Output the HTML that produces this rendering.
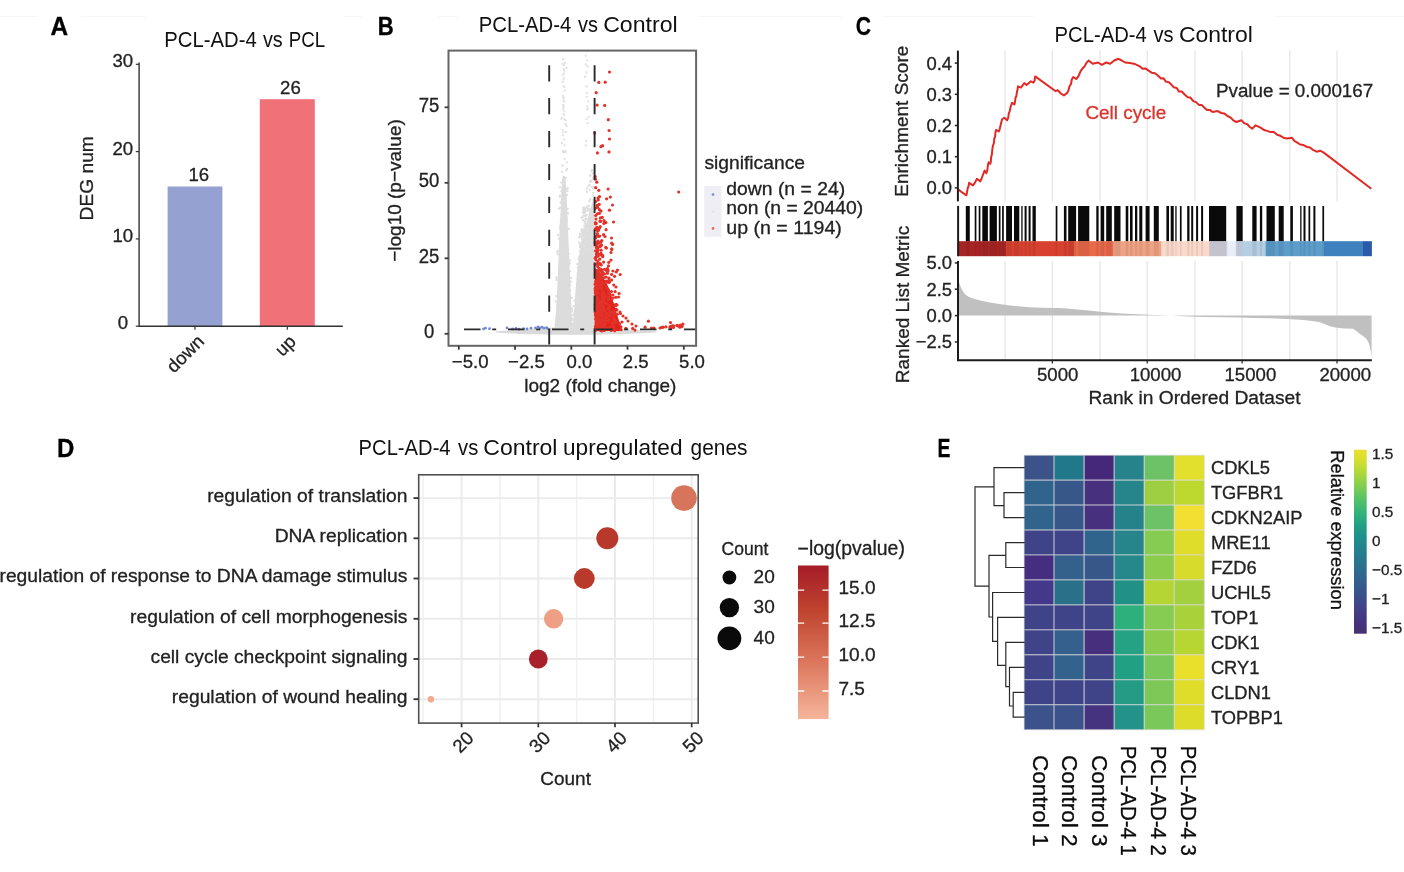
<!DOCTYPE html>
<html lang="en"><head><meta charset="utf-8"><title>Figure</title>
<style>html,body{margin:0;padding:0;background:#fff}body{width:1404px;height:872px;overflow:hidden}svg{display:block}text{font-family:"Liberation Sans", Arial, sans-serif;stroke-width:.3px}</style></head><body>
<svg width="1404" height="872" viewBox="0 0 1404 872">
<rect width="1404" height="872" fill="#fff"/>
<path d="M0 16.5H37M81 16.5H146M343.7 16.5H363M437 16.5H458M699 16.5H842M883.5 16.5H1033.5M1274 16.5H1404" stroke="#f6f6f6" stroke-width="1" fill="none"/>
<g id="letters">
<text x="50.41" y="34.9" font-size="25.4" font-weight="bold" fill="#000" textLength="17.62" lengthAdjust="spacingAndGlyphs" stroke="#000" stroke-width="0.8" stroke-linejoin="round">A</text>
<text x="377.64" y="34.9" font-size="25.4" font-weight="bold" fill="#000" textLength="15.96" lengthAdjust="spacingAndGlyphs" stroke="#000" stroke-width="0.8" stroke-linejoin="round">B</text>
<text x="855.63" y="35.1" font-size="25.4" font-weight="bold" fill="#000" textLength="15.24" lengthAdjust="spacingAndGlyphs" stroke="#000" stroke-width="0.8" stroke-linejoin="round">C</text>
<text x="57.11" y="456.7" font-size="25.4" font-weight="bold" fill="#000" textLength="17.38" lengthAdjust="spacingAndGlyphs" stroke="#000" stroke-width="0.8" stroke-linejoin="round">D</text>
<text x="937.42" y="456.7" font-size="25.4" font-weight="bold" fill="#000" textLength="12.94" lengthAdjust="spacingAndGlyphs" stroke="#000" stroke-width="0.8" stroke-linejoin="round">E</text>
</g>
<g id="panelA">
<text y="47" font-size="21.4" fill="#111"><tspan x="164.3" textLength="92.4" lengthAdjust="spacingAndGlyphs">PCL-AD-4</tspan> <tspan x="262.9" textLength="19.8" lengthAdjust="spacingAndGlyphs">vs</tspan> <tspan x="288.8" textLength="36.4" lengthAdjust="spacingAndGlyphs">PCL</tspan></text>
<rect x="167.6" y="186.5" width="54.8" height="139.7" fill="#94a1d1"/>
<rect x="259.8" y="99.2" width="55" height="227.0" fill="#f07177"/>
<path d="M139.1 62.6V326.2H342.8" fill="none" stroke="#333" stroke-width="1.4"/>
<path d="M135.8 326.2H139.1" stroke="#333" stroke-width="1.2"/>
<text x="122.8" y="329.1" font-size="18.6" text-anchor="middle" fill="#222" stroke="#222">0</text>
<path d="M135.8 238.9H139.1" stroke="#333" stroke-width="1.2"/>
<text x="122.8" y="241.8" font-size="18.6" text-anchor="middle" fill="#222" stroke="#222">10</text>
<path d="M135.8 151.6H139.1" stroke="#333" stroke-width="1.2"/>
<text x="122.8" y="154.5" font-size="18.6" text-anchor="middle" fill="#222" stroke="#222">20</text>
<path d="M135.8 64.3H139.1" stroke="#333" stroke-width="1.2"/>
<text x="122.8" y="67.2" font-size="18.6" text-anchor="middle" fill="#222" stroke="#222">30</text>
<path d="M195 326.2V329.7" stroke="#333" stroke-width="1.2"/>
<path d="M287.3 326.2V329.7" stroke="#333" stroke-width="1.2"/>
<text x="198.8" y="181.4" font-size="18.6" text-anchor="middle" fill="#222" stroke="#222">16</text>
<text x="290.4" y="93.9" font-size="18.6" text-anchor="middle" fill="#222" stroke="#222">26</text>
<text x="92.6" y="178.3" font-size="19.2" text-anchor="middle" fill="#222" stroke="#222" transform="rotate(-90 92.6 178.3)">DEG num</text>
<text x="205.2" y="342.6" font-size="18.4" text-anchor="end" fill="#222" stroke="#222" transform="rotate(-45 205.2 342.6)">down</text>
<text x="297" y="342.8" font-size="18.4" text-anchor="end" fill="#222" stroke="#222" transform="rotate(-45 297 342.8)">up</text>
</g>
<g id="panelB">
<text y="32.4" font-size="21.4" fill="#111"><tspan x="478.7" textLength="92.5" lengthAdjust="spacingAndGlyphs">PCL-AD-4</tspan> <tspan x="578.1" textLength="20.0" lengthAdjust="spacingAndGlyphs">vs</tspan> <tspan x="603.2" textLength="74.5" lengthAdjust="spacingAndGlyphs">Control</tspan></text>
<clipPath id="clipB"><rect x="448.5" y="50.6" width="247.6" height="295.2"/></clipPath>
<g clip-path="url(#clipB)">
<defs><filter id="soft" x="-5%" y="-5%" width="110%" height="110%"><feGaussianBlur stdDeviation="0.55"/></filter></defs>
<g filter="url(#soft)">
<path d="M496 331.2 C510 330.4 535 329 553 327.4 L573 327.6 L596 328 C620 329.6 640 330.6 656 331.2 L656 332.4 C630 334 600 334.8 575 334.8 C540 334.8 515 333.8 496 332.6 Z" fill="#dadada"/>
<path d="M553.8 331 C555.4 322 556.2 308 556.9 296 C557.6 282 558.2 268 558.8 252 C559.3 238 560 222 560.8 205 C561.2 196 561.6 188 562 180 L562.8 176 L564.8 176 L565.6 180 C566 188 566.6 196 567 205 C567.6 222 568.4 238 569 252 C569.6 268 570.4 284 571 298 C571.5 308 572 322 573 331 Z" fill="#dcdcdc"/>
<path d="M573.2 331 C573.6 322 574.2 310 575 298 C575.8 287 576.6 276 577.8 266 C579 256 580.2 248 582 240 C584 231 586 224 588 217 C589.5 212 591 207 592.4 202 L594.3 200 L594.3 331 Z" fill="#dcdcdc"/>
</g>
<circle cx="564.8" cy="90.6" r="1.15" fill="#e2e2e2"/>
<circle cx="564.9" cy="63.0" r="1.15" fill="#e2e2e2"/>
<circle cx="563.5" cy="113.9" r="1.15" fill="#e2e2e2"/>
<circle cx="564.1" cy="110.8" r="1.15" fill="#e2e2e2"/>
<circle cx="563.5" cy="59.1" r="1.15" fill="#e2e2e2"/>
<circle cx="563.9" cy="65.0" r="1.15" fill="#e2e2e2"/>
<circle cx="564.1" cy="101.7" r="1.15" fill="#e2e2e2"/>
<circle cx="563.3" cy="79.6" r="1.15" fill="#e2e2e2"/>
<circle cx="565.5" cy="124.0" r="1.15" fill="#e2e2e2"/>
<circle cx="563.3" cy="98.6" r="1.15" fill="#e2e2e2"/>
<circle cx="566.8" cy="162.4" r="1.15" fill="#e2e2e2"/>
<circle cx="564.4" cy="86.9" r="1.15" fill="#e2e2e2"/>
<circle cx="564.4" cy="70.9" r="1.15" fill="#e2e2e2"/>
<circle cx="564.6" cy="144.8" r="1.15" fill="#e2e2e2"/>
<circle cx="562.5" cy="74.9" r="1.15" fill="#e2e2e2"/>
<circle cx="563.0" cy="96.0" r="1.15" fill="#e2e2e2"/>
<circle cx="564.2" cy="115.3" r="1.15" fill="#e2e2e2"/>
<circle cx="563.9" cy="77.7" r="1.15" fill="#e2e2e2"/>
<circle cx="562.7" cy="129.8" r="1.15" fill="#e2e2e2"/>
<circle cx="564.3" cy="119.4" r="1.15" fill="#e2e2e2"/>
<circle cx="563.1" cy="104.9" r="1.15" fill="#e2e2e2"/>
<circle cx="566.1" cy="131.9" r="1.15" fill="#e2e2e2"/>
<circle cx="562.6" cy="81.9" r="1.15" fill="#e2e2e2"/>
<circle cx="563.0" cy="151.3" r="1.15" fill="#e2e2e2"/>
<circle cx="562.9" cy="135.2" r="1.15" fill="#e2e2e2"/>
<circle cx="566.5" cy="68.0" r="1.15" fill="#e2e2e2"/>
<circle cx="563.8" cy="101.0" r="1.15" fill="#e2e2e2"/>
<circle cx="563.1" cy="108.8" r="1.15" fill="#e2e2e2"/>
<circle cx="563.0" cy="59.3" r="1.15" fill="#e2e2e2"/>
<circle cx="561.9" cy="118.0" r="1.15" fill="#e2e2e2"/>
<circle cx="562.9" cy="151.3" r="1.15" fill="#e2e2e2"/>
<circle cx="565.7" cy="120.4" r="1.15" fill="#e2e2e2"/>
<circle cx="561.4" cy="118.8" r="1.15" fill="#e2e2e2"/>
<circle cx="564.6" cy="158.9" r="1.15" fill="#e2e2e2"/>
<circle cx="563.6" cy="107.2" r="1.15" fill="#e2e2e2"/>
<circle cx="563.4" cy="132.2" r="1.15" fill="#e2e2e2"/>
<circle cx="566.3" cy="126.2" r="1.15" fill="#e2e2e2"/>
<circle cx="563.7" cy="86.3" r="1.15" fill="#e2e2e2"/>
<circle cx="563.7" cy="97.4" r="1.15" fill="#e2e2e2"/>
<circle cx="563.6" cy="105.8" r="1.15" fill="#e2e2e2"/>
<circle cx="564.1" cy="73.5" r="1.15" fill="#e2e2e2"/>
<circle cx="564.1" cy="139.5" r="1.15" fill="#e2e2e2"/>
<circle cx="563.8" cy="69.2" r="1.15" fill="#e2e2e2"/>
<circle cx="565.3" cy="150.9" r="1.15" fill="#e2e2e2"/>
<circle cx="562.7" cy="63.9" r="1.15" fill="#e2e2e2"/>
<circle cx="564.4" cy="152.2" r="1.15" fill="#e2e2e2"/>
<circle cx="570.2" cy="312.0" r="1.15" fill="#dddddd"/>
<circle cx="562.6" cy="240.3" r="1.15" fill="#dddddd"/>
<circle cx="568.9" cy="253.8" r="1.15" fill="#dddddd"/>
<circle cx="557.1" cy="325.9" r="1.15" fill="#dddddd"/>
<circle cx="560.8" cy="219.8" r="1.15" fill="#dddddd"/>
<circle cx="563.5" cy="231.8" r="1.15" fill="#dddddd"/>
<circle cx="559.9" cy="285.8" r="1.15" fill="#dddddd"/>
<circle cx="563.2" cy="152.2" r="1.15" fill="#dddddd"/>
<circle cx="564.6" cy="255.5" r="1.15" fill="#dddddd"/>
<circle cx="567.3" cy="325.5" r="1.15" fill="#dddddd"/>
<circle cx="565.5" cy="276.4" r="1.15" fill="#dddddd"/>
<circle cx="556.3" cy="296.2" r="1.15" fill="#dddddd"/>
<circle cx="568.9" cy="320.2" r="1.15" fill="#dddddd"/>
<circle cx="569.1" cy="317.7" r="1.15" fill="#dddddd"/>
<circle cx="562.3" cy="259.0" r="1.15" fill="#dddddd"/>
<circle cx="565.0" cy="201.1" r="1.15" fill="#dddddd"/>
<circle cx="560.1" cy="187.4" r="1.15" fill="#dddddd"/>
<circle cx="559.9" cy="226.8" r="1.15" fill="#dddddd"/>
<circle cx="557.8" cy="250.8" r="1.15" fill="#dddddd"/>
<circle cx="561.9" cy="142.9" r="1.15" fill="#dddddd"/>
<circle cx="562.4" cy="200.5" r="1.15" fill="#dddddd"/>
<circle cx="566.4" cy="170.3" r="1.15" fill="#dddddd"/>
<circle cx="558.0" cy="288.9" r="1.15" fill="#dddddd"/>
<circle cx="561.9" cy="235.4" r="1.15" fill="#dddddd"/>
<circle cx="558.6" cy="254.7" r="1.15" fill="#dddddd"/>
<circle cx="572.6" cy="315.1" r="1.15" fill="#dddddd"/>
<circle cx="563.5" cy="269.7" r="1.15" fill="#dddddd"/>
<circle cx="560.1" cy="195.7" r="1.15" fill="#dddddd"/>
<circle cx="560.6" cy="251.2" r="1.15" fill="#dddddd"/>
<circle cx="557.6" cy="313.0" r="1.15" fill="#dddddd"/>
<circle cx="566.9" cy="168.9" r="1.15" fill="#dddddd"/>
<circle cx="558.3" cy="278.1" r="1.15" fill="#dddddd"/>
<circle cx="556.4" cy="280.0" r="1.15" fill="#dddddd"/>
<circle cx="571.0" cy="278.1" r="1.15" fill="#dddddd"/>
<circle cx="567.3" cy="316.5" r="1.15" fill="#dddddd"/>
<circle cx="562.1" cy="237.1" r="1.15" fill="#dddddd"/>
<circle cx="566.6" cy="217.7" r="1.15" fill="#dddddd"/>
<circle cx="568.0" cy="278.7" r="1.15" fill="#dddddd"/>
<circle cx="560.1" cy="249.1" r="1.15" fill="#dddddd"/>
<circle cx="572.3" cy="311.2" r="1.15" fill="#dddddd"/>
<circle cx="569.2" cy="315.4" r="1.15" fill="#dddddd"/>
<circle cx="568.0" cy="311.9" r="1.15" fill="#dddddd"/>
<circle cx="563.9" cy="230.5" r="1.15" fill="#dddddd"/>
<circle cx="557.4" cy="253.3" r="1.15" fill="#dddddd"/>
<circle cx="562.1" cy="171.8" r="1.15" fill="#dddddd"/>
<circle cx="566.0" cy="236.7" r="1.15" fill="#dddddd"/>
<circle cx="562.7" cy="325.8" r="1.15" fill="#dddddd"/>
<circle cx="572.8" cy="323.9" r="1.15" fill="#dddddd"/>
<circle cx="561.1" cy="325.7" r="1.15" fill="#dddddd"/>
<circle cx="560.5" cy="229.2" r="1.15" fill="#dddddd"/>
<circle cx="560.4" cy="224.3" r="1.15" fill="#dddddd"/>
<circle cx="570.2" cy="290.1" r="1.15" fill="#dddddd"/>
<circle cx="563.3" cy="314.2" r="1.15" fill="#dddddd"/>
<circle cx="568.6" cy="293.5" r="1.15" fill="#dddddd"/>
<circle cx="565.1" cy="195.3" r="1.15" fill="#dddddd"/>
<circle cx="568.9" cy="321.2" r="1.15" fill="#dddddd"/>
<circle cx="563.3" cy="304.6" r="1.15" fill="#dddddd"/>
<circle cx="566.8" cy="220.3" r="1.15" fill="#dddddd"/>
<circle cx="567.6" cy="249.6" r="1.15" fill="#dddddd"/>
<circle cx="561.7" cy="327.3" r="1.15" fill="#dddddd"/>
<circle cx="569.9" cy="260.4" r="1.15" fill="#dddddd"/>
<circle cx="558.1" cy="301.8" r="1.15" fill="#dddddd"/>
<circle cx="560.2" cy="207.7" r="1.15" fill="#dddddd"/>
<circle cx="569.4" cy="320.7" r="1.15" fill="#dddddd"/>
<circle cx="567.1" cy="212.6" r="1.15" fill="#dddddd"/>
<circle cx="566.7" cy="328.1" r="1.15" fill="#dddddd"/>
<circle cx="564.3" cy="252.5" r="1.15" fill="#dddddd"/>
<circle cx="558.8" cy="208.8" r="1.15" fill="#dddddd"/>
<circle cx="566.5" cy="327.2" r="1.15" fill="#dddddd"/>
<circle cx="570.3" cy="277.9" r="1.15" fill="#dddddd"/>
<circle cx="569.0" cy="265.1" r="1.15" fill="#dddddd"/>
<circle cx="558.5" cy="312.7" r="1.15" fill="#dddddd"/>
<circle cx="561.2" cy="235.3" r="1.15" fill="#dddddd"/>
<circle cx="564.7" cy="233.2" r="1.15" fill="#dddddd"/>
<circle cx="562.7" cy="236.8" r="1.15" fill="#dddddd"/>
<circle cx="567.8" cy="208.8" r="1.15" fill="#dddddd"/>
<circle cx="563.1" cy="253.0" r="1.15" fill="#dddddd"/>
<circle cx="570.1" cy="285.1" r="1.15" fill="#dddddd"/>
<circle cx="569.6" cy="263.2" r="1.15" fill="#dddddd"/>
<circle cx="564.2" cy="274.6" r="1.15" fill="#dddddd"/>
<circle cx="556.4" cy="277.5" r="1.15" fill="#dddddd"/>
<circle cx="559.2" cy="266.0" r="1.15" fill="#dddddd"/>
<circle cx="565.4" cy="151.9" r="1.15" fill="#dddddd"/>
<circle cx="563.4" cy="218.9" r="1.15" fill="#dddddd"/>
<circle cx="564.7" cy="301.8" r="1.15" fill="#dddddd"/>
<circle cx="563.9" cy="248.5" r="1.15" fill="#dddddd"/>
<circle cx="568.1" cy="281.6" r="1.15" fill="#dddddd"/>
<circle cx="564.3" cy="201.9" r="1.15" fill="#dddddd"/>
<circle cx="561.0" cy="234.7" r="1.15" fill="#dddddd"/>
<circle cx="563.8" cy="307.0" r="1.15" fill="#dddddd"/>
<circle cx="567.8" cy="282.4" r="1.15" fill="#dddddd"/>
<circle cx="562.6" cy="321.5" r="1.15" fill="#dddddd"/>
<circle cx="563.8" cy="288.7" r="1.15" fill="#dddddd"/>
<circle cx="566.6" cy="276.0" r="1.15" fill="#dddddd"/>
<circle cx="564.2" cy="267.8" r="1.15" fill="#dddddd"/>
<circle cx="570.2" cy="271.4" r="1.15" fill="#dddddd"/>
<circle cx="570.0" cy="298.9" r="1.15" fill="#dddddd"/>
<circle cx="559.2" cy="324.4" r="1.15" fill="#dddddd"/>
<circle cx="570.6" cy="282.1" r="1.15" fill="#dddddd"/>
<circle cx="557.2" cy="314.1" r="1.15" fill="#dddddd"/>
<circle cx="563.1" cy="206.3" r="1.15" fill="#dddddd"/>
<circle cx="561.4" cy="191.2" r="1.15" fill="#dddddd"/>
<circle cx="565.2" cy="191.4" r="1.15" fill="#dddddd"/>
<circle cx="570.7" cy="308.2" r="1.15" fill="#dddddd"/>
<circle cx="566.0" cy="214.7" r="1.15" fill="#dddddd"/>
<circle cx="557.8" cy="294.4" r="1.15" fill="#dddddd"/>
<circle cx="572.3" cy="318.5" r="1.15" fill="#dddddd"/>
<circle cx="568.9" cy="229.0" r="1.15" fill="#dddddd"/>
<circle cx="563.5" cy="259.9" r="1.15" fill="#dddddd"/>
<circle cx="570.1" cy="329.0" r="1.15" fill="#dddddd"/>
<circle cx="563.0" cy="216.3" r="1.15" fill="#dddddd"/>
<circle cx="561.3" cy="276.4" r="1.15" fill="#dddddd"/>
<circle cx="561.7" cy="224.1" r="1.15" fill="#dddddd"/>
<circle cx="555.5" cy="301.5" r="1.15" fill="#dddddd"/>
<circle cx="562.8" cy="281.4" r="1.15" fill="#dddddd"/>
<circle cx="562.6" cy="165.5" r="1.15" fill="#dddddd"/>
<circle cx="563.9" cy="290.1" r="1.15" fill="#dddddd"/>
<circle cx="567.8" cy="188.2" r="1.15" fill="#dddddd"/>
<circle cx="572.0" cy="308.7" r="1.15" fill="#dddddd"/>
<circle cx="561.5" cy="201.5" r="1.15" fill="#dddddd"/>
<circle cx="565.8" cy="177.8" r="1.15" fill="#dddddd"/>
<circle cx="559.1" cy="238.8" r="1.15" fill="#dddddd"/>
<circle cx="569.5" cy="263.5" r="1.15" fill="#dddddd"/>
<circle cx="559.4" cy="311.9" r="1.15" fill="#dddddd"/>
<circle cx="568.0" cy="213.4" r="1.15" fill="#dddddd"/>
<circle cx="566.8" cy="283.5" r="1.15" fill="#dddddd"/>
<circle cx="559.7" cy="196.8" r="1.15" fill="#dddddd"/>
<circle cx="562.4" cy="297.6" r="1.15" fill="#dddddd"/>
<circle cx="567.5" cy="191.1" r="1.15" fill="#dddddd"/>
<circle cx="568.6" cy="291.3" r="1.15" fill="#dddddd"/>
<circle cx="566.9" cy="195.0" r="1.15" fill="#dddddd"/>
<circle cx="566.8" cy="189.0" r="1.15" fill="#dddddd"/>
<circle cx="561.4" cy="268.0" r="1.15" fill="#dddddd"/>
<circle cx="570.3" cy="281.3" r="1.15" fill="#dddddd"/>
<circle cx="559.2" cy="238.3" r="1.15" fill="#dddddd"/>
<circle cx="559.7" cy="277.9" r="1.15" fill="#dddddd"/>
<circle cx="560.5" cy="202.9" r="1.15" fill="#dddddd"/>
<circle cx="561.3" cy="182.6" r="1.15" fill="#dddddd"/>
<circle cx="561.2" cy="246.1" r="1.15" fill="#dddddd"/>
<circle cx="560.1" cy="305.6" r="1.15" fill="#dddddd"/>
<circle cx="558.9" cy="274.4" r="1.15" fill="#dddddd"/>
<circle cx="557.3" cy="251.9" r="1.15" fill="#dddddd"/>
<circle cx="557.9" cy="235.1" r="1.15" fill="#dddddd"/>
<circle cx="564.6" cy="302.7" r="1.15" fill="#dddddd"/>
<circle cx="563.4" cy="222.7" r="1.15" fill="#dddddd"/>
<circle cx="556.3" cy="323.7" r="1.15" fill="#dddddd"/>
<circle cx="562.5" cy="311.9" r="1.15" fill="#dddddd"/>
<circle cx="568.7" cy="273.7" r="1.15" fill="#dddddd"/>
<circle cx="563.8" cy="259.1" r="1.15" fill="#dddddd"/>
<circle cx="571.8" cy="297.6" r="1.15" fill="#dddddd"/>
<circle cx="588.1" cy="101.3" r="1.15" fill="#e2e2e2"/>
<circle cx="586.1" cy="140.9" r="1.15" fill="#e2e2e2"/>
<circle cx="586.9" cy="109.6" r="1.15" fill="#e2e2e2"/>
<circle cx="586.5" cy="72.5" r="1.15" fill="#e2e2e2"/>
<circle cx="585.8" cy="64.5" r="1.15" fill="#e2e2e2"/>
<circle cx="585.1" cy="77.0" r="1.15" fill="#e2e2e2"/>
<circle cx="587.6" cy="66.4" r="1.15" fill="#e2e2e2"/>
<circle cx="585.7" cy="145.5" r="1.15" fill="#e2e2e2"/>
<circle cx="586.8" cy="93.1" r="1.15" fill="#e2e2e2"/>
<circle cx="588.7" cy="117.0" r="1.15" fill="#e2e2e2"/>
<circle cx="585.1" cy="76.3" r="1.15" fill="#e2e2e2"/>
<circle cx="589.8" cy="184.8" r="1.15" fill="#e2e2e2"/>
<circle cx="588.4" cy="186.3" r="1.15" fill="#e2e2e2"/>
<circle cx="589.1" cy="185.4" r="1.15" fill="#e2e2e2"/>
<circle cx="586.8" cy="96.8" r="1.15" fill="#e2e2e2"/>
<circle cx="587.2" cy="106.5" r="1.15" fill="#e2e2e2"/>
<circle cx="586.5" cy="119.1" r="1.15" fill="#e2e2e2"/>
<circle cx="587.6" cy="123.1" r="1.15" fill="#e2e2e2"/>
<circle cx="585.6" cy="55.7" r="1.15" fill="#e2e2e2"/>
<circle cx="587.8" cy="108.9" r="1.15" fill="#e2e2e2"/>
<circle cx="587.0" cy="60.6" r="1.15" fill="#e2e2e2"/>
<circle cx="586.7" cy="86.4" r="1.15" fill="#e2e2e2"/>
<circle cx="590.4" cy="216.8" r="1.15" fill="#dfdfdf"/>
<circle cx="591.1" cy="230.0" r="1.15" fill="#dfdfdf"/>
<circle cx="592.7" cy="227.3" r="1.15" fill="#dfdfdf"/>
<circle cx="589.4" cy="201.2" r="1.15" fill="#dfdfdf"/>
<circle cx="584.4" cy="248.8" r="1.15" fill="#dfdfdf"/>
<circle cx="591.0" cy="227.9" r="1.15" fill="#dfdfdf"/>
<circle cx="592.9" cy="173.5" r="1.15" fill="#dfdfdf"/>
<circle cx="590.6" cy="241.4" r="1.15" fill="#dfdfdf"/>
<circle cx="592.2" cy="228.7" r="1.15" fill="#dfdfdf"/>
<circle cx="591.5" cy="181.1" r="1.15" fill="#dfdfdf"/>
<circle cx="592.6" cy="210.3" r="1.15" fill="#dfdfdf"/>
<circle cx="592.3" cy="234.4" r="1.15" fill="#dfdfdf"/>
<circle cx="592.9" cy="216.7" r="1.15" fill="#dfdfdf"/>
<circle cx="591.5" cy="224.6" r="1.15" fill="#dfdfdf"/>
<circle cx="586.9" cy="188.4" r="1.15" fill="#dfdfdf"/>
<circle cx="590.6" cy="180.6" r="1.15" fill="#dfdfdf"/>
<circle cx="592.9" cy="178.4" r="1.15" fill="#dfdfdf"/>
<circle cx="591.2" cy="214.7" r="1.15" fill="#dfdfdf"/>
<circle cx="591.5" cy="220.1" r="1.15" fill="#dfdfdf"/>
<circle cx="583.7" cy="209.1" r="1.15" fill="#dfdfdf"/>
<circle cx="591.7" cy="233.8" r="1.15" fill="#dfdfdf"/>
<circle cx="590.7" cy="210.2" r="1.15" fill="#dfdfdf"/>
<circle cx="584.6" cy="222.7" r="1.15" fill="#dfdfdf"/>
<circle cx="587.2" cy="228.9" r="1.15" fill="#dfdfdf"/>
<circle cx="590.3" cy="176.0" r="1.15" fill="#dfdfdf"/>
<circle cx="586.6" cy="228.3" r="1.15" fill="#dfdfdf"/>
<circle cx="593.4" cy="229.2" r="1.15" fill="#dfdfdf"/>
<circle cx="589.5" cy="209.5" r="1.15" fill="#dfdfdf"/>
<circle cx="591.7" cy="208.3" r="1.15" fill="#dfdfdf"/>
<circle cx="590.7" cy="231.4" r="1.15" fill="#dfdfdf"/>
<circle cx="585.0" cy="221.4" r="1.15" fill="#dfdfdf"/>
<circle cx="589.9" cy="181.8" r="1.15" fill="#dfdfdf"/>
<circle cx="587.8" cy="229.5" r="1.15" fill="#dfdfdf"/>
<circle cx="583.6" cy="215.4" r="1.15" fill="#dfdfdf"/>
<circle cx="590.3" cy="174.9" r="1.15" fill="#dfdfdf"/>
<circle cx="591.5" cy="223.8" r="1.15" fill="#dfdfdf"/>
<circle cx="587.9" cy="224.1" r="1.15" fill="#dfdfdf"/>
<circle cx="590.1" cy="211.3" r="1.15" fill="#dfdfdf"/>
<circle cx="586.8" cy="207.3" r="1.15" fill="#dfdfdf"/>
<circle cx="585.7" cy="241.5" r="1.15" fill="#dfdfdf"/>
<circle cx="593.0" cy="248.3" r="1.15" fill="#dfdfdf"/>
<circle cx="591.5" cy="171.4" r="1.15" fill="#dfdfdf"/>
<circle cx="593.3" cy="235.6" r="1.15" fill="#dfdfdf"/>
<circle cx="588.7" cy="206.0" r="1.15" fill="#dfdfdf"/>
<circle cx="593.3" cy="186.8" r="1.15" fill="#dfdfdf"/>
<circle cx="591.6" cy="186.9" r="1.15" fill="#dfdfdf"/>
<circle cx="591.5" cy="181.3" r="1.15" fill="#dfdfdf"/>
<circle cx="584.2" cy="246.2" r="1.15" fill="#dfdfdf"/>
<circle cx="589.7" cy="235.6" r="1.15" fill="#dfdfdf"/>
<circle cx="591.2" cy="240.9" r="1.15" fill="#dfdfdf"/>
<circle cx="593.1" cy="188.5" r="1.15" fill="#dfdfdf"/>
<circle cx="584.8" cy="208.9" r="1.15" fill="#dfdfdf"/>
<circle cx="591.7" cy="170.3" r="1.15" fill="#dfdfdf"/>
<circle cx="589.0" cy="206.1" r="1.15" fill="#dfdfdf"/>
<circle cx="590.5" cy="181.3" r="1.15" fill="#dfdfdf"/>
<circle cx="592.7" cy="195.3" r="1.15" fill="#dfdfdf"/>
<circle cx="592.7" cy="170.1" r="1.15" fill="#dfdfdf"/>
<circle cx="584.6" cy="237.1" r="1.15" fill="#dfdfdf"/>
<circle cx="591.3" cy="244.1" r="1.15" fill="#dfdfdf"/>
<circle cx="587.0" cy="242.1" r="1.15" fill="#dfdfdf"/>
<circle cx="590.0" cy="199.8" r="1.15" fill="#dfdfdf"/>
<circle cx="590.0" cy="249.9" r="1.15" fill="#dfdfdf"/>
<circle cx="590.3" cy="198.9" r="1.15" fill="#dfdfdf"/>
<circle cx="586.9" cy="192.0" r="1.15" fill="#dfdfdf"/>
<circle cx="592.9" cy="178.1" r="1.15" fill="#dfdfdf"/>
<circle cx="593.2" cy="192.8" r="1.15" fill="#dfdfdf"/>
<circle cx="589.5" cy="189.9" r="1.15" fill="#dfdfdf"/>
<circle cx="587.5" cy="210.9" r="1.15" fill="#dfdfdf"/>
<circle cx="593.3" cy="199.9" r="1.15" fill="#dfdfdf"/>
<circle cx="592.1" cy="240.7" r="1.15" fill="#dfdfdf"/>
<circle cx="580.8" cy="283.9" r="1.15" fill="#dddddd"/>
<circle cx="577.5" cy="273.7" r="1.15" fill="#dddddd"/>
<circle cx="579.0" cy="294.9" r="1.15" fill="#dddddd"/>
<circle cx="581.0" cy="261.4" r="1.15" fill="#dddddd"/>
<circle cx="575.9" cy="299.1" r="1.15" fill="#dddddd"/>
<circle cx="584.5" cy="211.1" r="1.15" fill="#dddddd"/>
<circle cx="575.4" cy="320.8" r="1.15" fill="#dddddd"/>
<circle cx="582.8" cy="248.0" r="1.15" fill="#dddddd"/>
<circle cx="582.0" cy="242.2" r="1.15" fill="#dddddd"/>
<circle cx="579.2" cy="237.5" r="1.15" fill="#dddddd"/>
<circle cx="577.3" cy="287.0" r="1.15" fill="#dddddd"/>
<circle cx="582.6" cy="254.3" r="1.15" fill="#dddddd"/>
<circle cx="584.4" cy="225.9" r="1.15" fill="#dddddd"/>
<circle cx="575.4" cy="318.2" r="1.15" fill="#dddddd"/>
<circle cx="580.3" cy="267.1" r="1.15" fill="#dddddd"/>
<circle cx="576.3" cy="329.6" r="1.15" fill="#dddddd"/>
<circle cx="580.9" cy="261.2" r="1.15" fill="#dddddd"/>
<circle cx="585.5" cy="216.3" r="1.15" fill="#dddddd"/>
<circle cx="582.5" cy="247.7" r="1.15" fill="#dddddd"/>
<circle cx="583.3" cy="237.3" r="1.15" fill="#dddddd"/>
<circle cx="580.5" cy="276.2" r="1.15" fill="#dddddd"/>
<circle cx="579.4" cy="256.6" r="1.15" fill="#dddddd"/>
<circle cx="579.6" cy="256.7" r="1.15" fill="#dddddd"/>
<circle cx="581.6" cy="247.3" r="1.15" fill="#dddddd"/>
<circle cx="584.6" cy="212.8" r="1.15" fill="#dddddd"/>
<circle cx="587.8" cy="220.7" r="1.15" fill="#dddddd"/>
<circle cx="577.9" cy="267.9" r="1.15" fill="#dddddd"/>
<circle cx="581.4" cy="232.0" r="1.15" fill="#dddddd"/>
<circle cx="582.6" cy="238.9" r="1.15" fill="#dddddd"/>
<circle cx="581.7" cy="260.7" r="1.15" fill="#dddddd"/>
<circle cx="575.6" cy="324.2" r="1.15" fill="#dddddd"/>
<circle cx="583.6" cy="207.7" r="1.15" fill="#dddddd"/>
<circle cx="584.9" cy="209.0" r="1.15" fill="#dddddd"/>
<circle cx="577.4" cy="264.2" r="1.15" fill="#dddddd"/>
<circle cx="580.0" cy="278.4" r="1.15" fill="#dddddd"/>
<circle cx="574.4" cy="320.9" r="1.15" fill="#dddddd"/>
<circle cx="577.8" cy="308.2" r="1.15" fill="#dddddd"/>
<circle cx="580.2" cy="236.1" r="1.15" fill="#dddddd"/>
<circle cx="585.5" cy="218.6" r="1.15" fill="#dddddd"/>
<circle cx="578.8" cy="290.3" r="1.15" fill="#dddddd"/>
<circle cx="573.9" cy="322.7" r="1.15" fill="#dddddd"/>
<circle cx="574.6" cy="300.6" r="1.15" fill="#dddddd"/>
<circle cx="579.9" cy="262.2" r="1.15" fill="#dddddd"/>
<circle cx="576.1" cy="302.8" r="1.15" fill="#dddddd"/>
<circle cx="584.7" cy="234.1" r="1.15" fill="#dddddd"/>
<circle cx="581.3" cy="243.0" r="1.15" fill="#dddddd"/>
<circle cx="584.4" cy="221.0" r="1.15" fill="#dddddd"/>
<circle cx="579.1" cy="292.3" r="1.15" fill="#dddddd"/>
<circle cx="586.0" cy="219.0" r="1.15" fill="#dddddd"/>
<circle cx="579.4" cy="277.9" r="1.15" fill="#dddddd"/>
<circle cx="581.4" cy="253.5" r="1.15" fill="#dddddd"/>
<circle cx="587.6" cy="206.3" r="1.15" fill="#dddddd"/>
<circle cx="579.0" cy="242.7" r="1.15" fill="#dddddd"/>
<circle cx="578.7" cy="285.6" r="1.15" fill="#dddddd"/>
<circle cx="574.0" cy="315.5" r="1.15" fill="#dddddd"/>
<circle cx="583.1" cy="235.9" r="1.15" fill="#dddddd"/>
<circle cx="573.7" cy="325.1" r="1.15" fill="#dddddd"/>
<circle cx="584.7" cy="207.7" r="1.15" fill="#dddddd"/>
<circle cx="579.2" cy="267.3" r="1.15" fill="#dddddd"/>
<circle cx="581.6" cy="237.2" r="1.15" fill="#dddddd"/>
<circle cx="578.5" cy="288.4" r="1.15" fill="#dddddd"/>
<circle cx="585.2" cy="209.3" r="1.15" fill="#dddddd"/>
<circle cx="580.0" cy="247.3" r="1.15" fill="#dddddd"/>
<circle cx="584.5" cy="229.8" r="1.15" fill="#dddddd"/>
<circle cx="575.9" cy="304.6" r="1.15" fill="#dddddd"/>
<circle cx="581.9" cy="230.7" r="1.15" fill="#dddddd"/>
<circle cx="573.0" cy="326.2" r="1.15" fill="#dddddd"/>
<circle cx="585.3" cy="233.9" r="1.15" fill="#dddddd"/>
<circle cx="583.3" cy="232.7" r="1.15" fill="#dddddd"/>
<circle cx="573.0" cy="324.0" r="1.15" fill="#dddddd"/>
<circle cx="580.2" cy="267.0" r="1.15" fill="#dddddd"/>
<circle cx="581.6" cy="257.1" r="1.15" fill="#dddddd"/>
<circle cx="578.4" cy="288.2" r="1.15" fill="#dddddd"/>
<circle cx="580.9" cy="254.2" r="1.15" fill="#dddddd"/>
<circle cx="584.0" cy="231.6" r="1.15" fill="#dddddd"/>
<circle cx="585.2" cy="211.5" r="1.15" fill="#dddddd"/>
<circle cx="583.1" cy="212.5" r="1.15" fill="#dddddd"/>
<circle cx="576.7" cy="315.4" r="1.15" fill="#dddddd"/>
<circle cx="579.9" cy="296.6" r="1.15" fill="#dddddd"/>
<circle cx="581.8" cy="246.2" r="1.15" fill="#dddddd"/>
<circle cx="585.7" cy="228.2" r="1.15" fill="#dddddd"/>
<circle cx="584.8" cy="209.0" r="1.15" fill="#dddddd"/>
<circle cx="576.8" cy="288.1" r="1.15" fill="#dddddd"/>
<circle cx="582.7" cy="246.5" r="1.15" fill="#dddddd"/>
<circle cx="584.9" cy="226.2" r="1.15" fill="#dddddd"/>
<circle cx="581.6" cy="248.9" r="1.15" fill="#dddddd"/>
<circle cx="576.4" cy="324.4" r="1.15" fill="#dddddd"/>
<circle cx="585.8" cy="230.9" r="1.15" fill="#dddddd"/>
<circle cx="582.6" cy="249.6" r="1.15" fill="#dddddd"/>
<circle cx="578.4" cy="259.1" r="1.15" fill="#dddddd"/>
<circle cx="584.1" cy="211.2" r="1.15" fill="#dddddd"/>
<circle cx="574.7" cy="319.9" r="1.15" fill="#dddddd"/>
<circle cx="581.8" cy="229.1" r="1.15" fill="#dddddd"/>
<circle cx="587.7" cy="208.8" r="1.15" fill="#dddddd"/>
<circle cx="581.7" cy="256.4" r="1.15" fill="#dddddd"/>
<circle cx="583.4" cy="210.1" r="1.15" fill="#dddddd"/>
<circle cx="588.3" cy="209.4" r="1.15" fill="#dddddd"/>
<circle cx="583.9" cy="237.1" r="1.15" fill="#dddddd"/>
<circle cx="577.6" cy="298.4" r="1.15" fill="#dddddd"/>
<circle cx="581.9" cy="239.0" r="1.15" fill="#dddddd"/>
<circle cx="573.3" cy="324.7" r="1.15" fill="#dddddd"/>
<circle cx="576.4" cy="294.6" r="1.15" fill="#dddddd"/>
<circle cx="582.0" cy="244.6" r="1.15" fill="#dddddd"/>
<circle cx="576.7" cy="299.5" r="1.15" fill="#dddddd"/>
<circle cx="572.5" cy="319.6" r="1.15" fill="#dddddd"/>
<circle cx="583.4" cy="208.0" r="1.15" fill="#dddddd"/>
<circle cx="579.9" cy="234.2" r="1.15" fill="#dddddd"/>
<circle cx="574.6" cy="324.2" r="1.15" fill="#dddddd"/>
<circle cx="581.2" cy="253.3" r="1.15" fill="#dddddd"/>
<circle cx="581.2" cy="266.7" r="1.15" fill="#dddddd"/>
<circle cx="575.4" cy="321.0" r="1.15" fill="#dddddd"/>
<circle cx="578.9" cy="297.3" r="1.15" fill="#dddddd"/>
<circle cx="576.0" cy="307.8" r="1.15" fill="#dddddd"/>
<circle cx="580.1" cy="246.0" r="1.15" fill="#dddddd"/>
<circle cx="580.5" cy="244.9" r="1.15" fill="#dddddd"/>
<circle cx="586.7" cy="214.9" r="1.15" fill="#dddddd"/>
<circle cx="583.6" cy="229.7" r="1.15" fill="#dddddd"/>
<circle cx="584.2" cy="213.1" r="1.15" fill="#dddddd"/>
<circle cx="584.5" cy="209.2" r="1.15" fill="#dddddd"/>
<circle cx="573.4" cy="327.5" r="1.15" fill="#dddddd"/>
<circle cx="576.0" cy="315.4" r="1.15" fill="#dddddd"/>
<circle cx="584.9" cy="215.5" r="1.15" fill="#dddddd"/>
<circle cx="582.7" cy="217.1" r="1.15" fill="#dddddd"/>
<circle cx="580.4" cy="260.9" r="1.15" fill="#dddddd"/>
<circle cx="581.5" cy="234.3" r="1.15" fill="#dddddd"/>
<circle cx="578.5" cy="289.3" r="1.15" fill="#dddddd"/>
<circle cx="577.7" cy="298.5" r="1.15" fill="#dddddd"/>
<circle cx="582.9" cy="220.1" r="1.15" fill="#dddddd"/>
<circle cx="575.0" cy="310.1" r="1.15" fill="#dddddd"/>
<circle cx="583.0" cy="251.6" r="1.15" fill="#dddddd"/>
<circle cx="577.1" cy="297.3" r="1.15" fill="#dddddd"/>
<circle cx="583.9" cy="235.7" r="1.15" fill="#dddddd"/>
<circle cx="585.4" cy="224.2" r="1.15" fill="#dddddd"/>
<circle cx="580.8" cy="245.8" r="1.15" fill="#dddddd"/>
<circle cx="582.6" cy="254.5" r="1.15" fill="#dddddd"/>
<circle cx="583.0" cy="233.9" r="1.15" fill="#dddddd"/>
<circle cx="573.6" cy="306.1" r="1.15" fill="#dddddd"/>
<circle cx="581.4" cy="217.8" r="1.15" fill="#dddddd"/>
<circle cx="581.1" cy="264.3" r="1.15" fill="#dddddd"/>
<circle cx="572.3" cy="319.3" r="1.15" fill="#dddddd"/>
<circle cx="585.3" cy="210.0" r="1.15" fill="#dddddd"/>
<circle cx="584.3" cy="228.7" r="1.15" fill="#dddddd"/>
<circle cx="571.2" cy="326.6" r="1.15" fill="#dddddd"/>
<circle cx="579.8" cy="251.5" r="1.15" fill="#dddddd"/>
<circle cx="574.2" cy="313.3" r="1.15" fill="#dddddd"/>
<circle cx="576.6" cy="302.2" r="1.15" fill="#dddddd"/>
<circle cx="575.6" cy="323.2" r="1.15" fill="#dddddd"/>
<circle cx="579.3" cy="282.5" r="1.15" fill="#dddddd"/>
<circle cx="582.8" cy="232.2" r="1.15" fill="#dddddd"/>
<circle cx="584.0" cy="230.5" r="1.15" fill="#dddddd"/>
<path d="M594.6 331 L594.6 268 L598 271 C601 274 604.5 279 607.5 285 C610 291 612 297 614 304 C616 311 618.5 320 621.5 328 L622.5 331 Z" fill="#e2231f" filter="url(#soft)"/>
<circle cx="609.5" cy="72.0" r="1.6" fill="#e2332a"/>
<circle cx="598.8" cy="82.4" r="1.6" fill="#e2332a"/>
<circle cx="605.2" cy="82.2" r="1.6" fill="#e2332a"/>
<circle cx="596.2" cy="92.7" r="1.6" fill="#e2332a"/>
<circle cx="597.1" cy="105.1" r="1.6" fill="#e2332a"/>
<circle cx="604.7" cy="105.4" r="1.6" fill="#e2332a"/>
<circle cx="608.3" cy="119.7" r="1.6" fill="#e2332a"/>
<circle cx="594.6" cy="133.1" r="1.6" fill="#e2332a"/>
<circle cx="609.1" cy="130.5" r="1.6" fill="#e2332a"/>
<circle cx="609.5" cy="139.0" r="1.6" fill="#e2332a"/>
<circle cx="600.9" cy="146.7" r="1.6" fill="#e2332a"/>
<circle cx="602.6" cy="145.7" r="1.6" fill="#e2332a"/>
<circle cx="597.4" cy="152.9" r="1.6" fill="#e2332a"/>
<circle cx="609.0" cy="151.9" r="1.6" fill="#e2332a"/>
<circle cx="595.2" cy="176.5" r="1.6" fill="#e2332a"/>
<circle cx="595.4" cy="179.2" r="1.6" fill="#e2332a"/>
<circle cx="596.8" cy="182.2" r="1.6" fill="#e2332a"/>
<circle cx="595.7" cy="187.7" r="1.6" fill="#e2332a"/>
<circle cx="598.8" cy="190.3" r="1.6" fill="#e2332a"/>
<circle cx="608.1" cy="189.0" r="1.6" fill="#e2332a"/>
<circle cx="678.7" cy="192.0" r="1.6" fill="#e2332a"/>
<circle cx="599.5" cy="196.6" r="1.6" fill="#e2332a"/>
<circle cx="610.3" cy="197.1" r="1.6" fill="#e2332a"/>
<circle cx="595.3" cy="284.0" r="1.6" fill="#e2332a"/>
<circle cx="595.9" cy="270.0" r="1.6" fill="#e2332a"/>
<circle cx="596.4" cy="282.3" r="1.6" fill="#e2332a"/>
<circle cx="597.6" cy="289.9" r="1.6" fill="#e2332a"/>
<circle cx="601.6" cy="245.1" r="1.6" fill="#e2332a"/>
<circle cx="603.9" cy="223.5" r="1.6" fill="#e2332a"/>
<circle cx="595.3" cy="258.2" r="1.6" fill="#e2332a"/>
<circle cx="603.8" cy="318.8" r="1.6" fill="#e2332a"/>
<circle cx="605.9" cy="222.6" r="1.6" fill="#e2332a"/>
<circle cx="595.7" cy="327.7" r="1.6" fill="#e2332a"/>
<circle cx="616.2" cy="321.0" r="1.6" fill="#e2332a"/>
<circle cx="596.6" cy="247.8" r="1.6" fill="#e2332a"/>
<circle cx="609.3" cy="298.3" r="1.6" fill="#e2332a"/>
<circle cx="602.2" cy="274.7" r="1.6" fill="#e2332a"/>
<circle cx="603.6" cy="262.1" r="1.6" fill="#e2332a"/>
<circle cx="596.8" cy="301.3" r="1.6" fill="#e2332a"/>
<circle cx="596.0" cy="259.9" r="1.6" fill="#e2332a"/>
<circle cx="598.4" cy="254.1" r="1.6" fill="#e2332a"/>
<circle cx="601.2" cy="264.9" r="1.6" fill="#e2332a"/>
<circle cx="595.6" cy="301.0" r="1.6" fill="#e2332a"/>
<circle cx="613.0" cy="324.4" r="1.6" fill="#e2332a"/>
<circle cx="611.2" cy="330.5" r="1.6" fill="#e2332a"/>
<circle cx="609.0" cy="319.7" r="1.6" fill="#e2332a"/>
<circle cx="599.1" cy="321.6" r="1.6" fill="#e2332a"/>
<circle cx="612.8" cy="298.1" r="1.6" fill="#e2332a"/>
<circle cx="597.9" cy="320.2" r="1.6" fill="#e2332a"/>
<circle cx="595.4" cy="264.3" r="1.6" fill="#e2332a"/>
<circle cx="615.6" cy="322.4" r="1.6" fill="#e2332a"/>
<circle cx="609.4" cy="281.9" r="1.6" fill="#e2332a"/>
<circle cx="606.1" cy="281.0" r="1.6" fill="#e2332a"/>
<circle cx="604.5" cy="273.9" r="1.6" fill="#e2332a"/>
<circle cx="602.7" cy="255.7" r="1.6" fill="#e2332a"/>
<circle cx="605.4" cy="328.8" r="1.6" fill="#e2332a"/>
<circle cx="595.4" cy="238.2" r="1.6" fill="#e2332a"/>
<circle cx="597.5" cy="316.9" r="1.6" fill="#e2332a"/>
<circle cx="595.2" cy="284.2" r="1.6" fill="#e2332a"/>
<circle cx="597.3" cy="243.9" r="1.6" fill="#e2332a"/>
<circle cx="601.6" cy="275.5" r="1.6" fill="#e2332a"/>
<circle cx="611.0" cy="260.1" r="1.6" fill="#e2332a"/>
<circle cx="595.6" cy="228.9" r="1.6" fill="#e2332a"/>
<circle cx="597.6" cy="301.6" r="1.6" fill="#e2332a"/>
<circle cx="601.8" cy="271.9" r="1.6" fill="#e2332a"/>
<circle cx="612.9" cy="295.0" r="1.6" fill="#e2332a"/>
<circle cx="595.5" cy="250.8" r="1.6" fill="#e2332a"/>
<circle cx="601.5" cy="301.1" r="1.6" fill="#e2332a"/>
<circle cx="597.2" cy="323.0" r="1.6" fill="#e2332a"/>
<circle cx="605.0" cy="236.5" r="1.6" fill="#e2332a"/>
<circle cx="605.6" cy="296.6" r="1.6" fill="#e2332a"/>
<circle cx="595.8" cy="257.1" r="1.6" fill="#e2332a"/>
<circle cx="596.8" cy="227.4" r="1.6" fill="#e2332a"/>
<circle cx="597.8" cy="310.1" r="1.6" fill="#e2332a"/>
<circle cx="597.7" cy="302.4" r="1.6" fill="#e2332a"/>
<circle cx="598.8" cy="323.5" r="1.6" fill="#e2332a"/>
<circle cx="597.6" cy="314.8" r="1.6" fill="#e2332a"/>
<circle cx="605.6" cy="318.5" r="1.6" fill="#e2332a"/>
<circle cx="596.7" cy="273.0" r="1.6" fill="#e2332a"/>
<circle cx="611.6" cy="280.1" r="1.6" fill="#e2332a"/>
<circle cx="595.6" cy="215.5" r="1.6" fill="#e2332a"/>
<circle cx="596.6" cy="321.4" r="1.6" fill="#e2332a"/>
<circle cx="598.2" cy="199.9" r="1.6" fill="#e2332a"/>
<circle cx="602.0" cy="295.5" r="1.6" fill="#e2332a"/>
<circle cx="601.0" cy="211.1" r="1.6" fill="#e2332a"/>
<circle cx="609.4" cy="305.6" r="1.6" fill="#e2332a"/>
<circle cx="595.9" cy="281.3" r="1.6" fill="#e2332a"/>
<circle cx="596.8" cy="253.2" r="1.6" fill="#e2332a"/>
<circle cx="612.8" cy="326.1" r="1.6" fill="#e2332a"/>
<circle cx="598.8" cy="279.5" r="1.6" fill="#e2332a"/>
<circle cx="607.4" cy="268.6" r="1.6" fill="#e2332a"/>
<circle cx="596.0" cy="219.0" r="1.6" fill="#e2332a"/>
<circle cx="596.1" cy="290.4" r="1.6" fill="#e2332a"/>
<circle cx="605.9" cy="281.9" r="1.6" fill="#e2332a"/>
<circle cx="598.7" cy="280.8" r="1.6" fill="#e2332a"/>
<circle cx="600.6" cy="315.3" r="1.6" fill="#e2332a"/>
<circle cx="596.3" cy="300.4" r="1.6" fill="#e2332a"/>
<circle cx="596.6" cy="309.9" r="1.6" fill="#e2332a"/>
<circle cx="597.6" cy="266.5" r="1.6" fill="#e2332a"/>
<circle cx="607.6" cy="328.8" r="1.6" fill="#e2332a"/>
<circle cx="600.7" cy="254.7" r="1.6" fill="#e2332a"/>
<circle cx="597.8" cy="248.4" r="1.6" fill="#e2332a"/>
<circle cx="600.7" cy="302.8" r="1.6" fill="#e2332a"/>
<circle cx="596.2" cy="281.4" r="1.6" fill="#e2332a"/>
<circle cx="604.2" cy="277.5" r="1.6" fill="#e2332a"/>
<circle cx="602.7" cy="318.6" r="1.6" fill="#e2332a"/>
<circle cx="597.2" cy="297.1" r="1.6" fill="#e2332a"/>
<circle cx="603.9" cy="311.1" r="1.6" fill="#e2332a"/>
<circle cx="598.9" cy="280.8" r="1.6" fill="#e2332a"/>
<circle cx="599.0" cy="281.0" r="1.6" fill="#e2332a"/>
<circle cx="604.8" cy="321.6" r="1.6" fill="#e2332a"/>
<circle cx="600.5" cy="301.1" r="1.6" fill="#e2332a"/>
<circle cx="602.5" cy="327.6" r="1.6" fill="#e2332a"/>
<circle cx="596.2" cy="323.0" r="1.6" fill="#e2332a"/>
<circle cx="602.8" cy="292.8" r="1.6" fill="#e2332a"/>
<circle cx="599.6" cy="307.9" r="1.6" fill="#e2332a"/>
<circle cx="605.7" cy="324.0" r="1.6" fill="#e2332a"/>
<circle cx="596.8" cy="244.0" r="1.6" fill="#e2332a"/>
<circle cx="598.0" cy="250.0" r="1.6" fill="#e2332a"/>
<circle cx="597.4" cy="322.9" r="1.6" fill="#e2332a"/>
<circle cx="597.1" cy="304.2" r="1.6" fill="#e2332a"/>
<circle cx="600.3" cy="305.3" r="1.6" fill="#e2332a"/>
<circle cx="616.3" cy="271.9" r="1.6" fill="#e2332a"/>
<circle cx="599.7" cy="259.2" r="1.6" fill="#e2332a"/>
<circle cx="599.9" cy="221.1" r="1.6" fill="#e2332a"/>
<circle cx="613.8" cy="285.0" r="1.6" fill="#e2332a"/>
<circle cx="610.1" cy="311.4" r="1.6" fill="#e2332a"/>
<circle cx="596.5" cy="318.3" r="1.6" fill="#e2332a"/>
<circle cx="595.3" cy="308.2" r="1.6" fill="#e2332a"/>
<circle cx="596.0" cy="284.6" r="1.6" fill="#e2332a"/>
<circle cx="596.5" cy="300.8" r="1.6" fill="#e2332a"/>
<circle cx="596.8" cy="318.1" r="1.6" fill="#e2332a"/>
<circle cx="608.4" cy="316.3" r="1.6" fill="#e2332a"/>
<circle cx="596.9" cy="270.9" r="1.6" fill="#e2332a"/>
<circle cx="610.8" cy="312.5" r="1.6" fill="#e2332a"/>
<circle cx="604.5" cy="325.7" r="1.6" fill="#e2332a"/>
<circle cx="601.7" cy="281.9" r="1.6" fill="#e2332a"/>
<circle cx="606.3" cy="317.2" r="1.6" fill="#e2332a"/>
<circle cx="608.7" cy="280.4" r="1.6" fill="#e2332a"/>
<circle cx="609.7" cy="307.6" r="1.6" fill="#e2332a"/>
<circle cx="609.8" cy="327.6" r="1.6" fill="#e2332a"/>
<circle cx="595.6" cy="315.6" r="1.6" fill="#e2332a"/>
<circle cx="596.1" cy="236.6" r="1.6" fill="#e2332a"/>
<circle cx="604.8" cy="320.4" r="1.6" fill="#e2332a"/>
<circle cx="599.3" cy="319.4" r="1.6" fill="#e2332a"/>
<circle cx="597.5" cy="271.9" r="1.6" fill="#e2332a"/>
<circle cx="602.8" cy="322.1" r="1.6" fill="#e2332a"/>
<circle cx="615.6" cy="305.4" r="1.6" fill="#e2332a"/>
<circle cx="597.9" cy="256.3" r="1.6" fill="#e2332a"/>
<circle cx="600.2" cy="328.4" r="1.6" fill="#e2332a"/>
<circle cx="598.0" cy="198.1" r="1.6" fill="#e2332a"/>
<circle cx="599.3" cy="213.4" r="1.6" fill="#e2332a"/>
<circle cx="600.6" cy="221.3" r="1.6" fill="#e2332a"/>
<circle cx="602.7" cy="294.5" r="1.6" fill="#e2332a"/>
<circle cx="615.1" cy="291.7" r="1.6" fill="#e2332a"/>
<circle cx="595.3" cy="292.8" r="1.6" fill="#e2332a"/>
<circle cx="610.1" cy="294.5" r="1.6" fill="#e2332a"/>
<circle cx="597.9" cy="261.7" r="1.6" fill="#e2332a"/>
<circle cx="606.7" cy="287.4" r="1.6" fill="#e2332a"/>
<circle cx="598.5" cy="281.0" r="1.6" fill="#e2332a"/>
<circle cx="597.9" cy="301.9" r="1.6" fill="#e2332a"/>
<circle cx="603.8" cy="328.0" r="1.6" fill="#e2332a"/>
<circle cx="605.2" cy="315.9" r="1.6" fill="#e2332a"/>
<circle cx="595.2" cy="305.0" r="1.6" fill="#e2332a"/>
<circle cx="610.8" cy="315.8" r="1.6" fill="#e2332a"/>
<circle cx="607.4" cy="273.2" r="1.6" fill="#e2332a"/>
<circle cx="615.1" cy="304.9" r="1.6" fill="#e2332a"/>
<circle cx="599.1" cy="242.8" r="1.6" fill="#e2332a"/>
<circle cx="606.4" cy="303.6" r="1.6" fill="#e2332a"/>
<circle cx="603.6" cy="321.8" r="1.6" fill="#e2332a"/>
<circle cx="596.9" cy="287.5" r="1.6" fill="#e2332a"/>
<circle cx="595.9" cy="302.9" r="1.6" fill="#e2332a"/>
<circle cx="596.6" cy="275.6" r="1.6" fill="#e2332a"/>
<circle cx="600.2" cy="246.5" r="1.6" fill="#e2332a"/>
<circle cx="602.4" cy="302.3" r="1.6" fill="#e2332a"/>
<circle cx="606.6" cy="198.8" r="1.6" fill="#e2332a"/>
<circle cx="602.3" cy="312.9" r="1.6" fill="#e2332a"/>
<circle cx="595.6" cy="326.1" r="1.6" fill="#e2332a"/>
<circle cx="597.6" cy="207.3" r="1.6" fill="#e2332a"/>
<circle cx="620.4" cy="313.5" r="1.6" fill="#e2332a"/>
<circle cx="603.3" cy="318.8" r="1.6" fill="#e2332a"/>
<circle cx="611.7" cy="249.6" r="1.6" fill="#e2332a"/>
<circle cx="599.4" cy="286.4" r="1.6" fill="#e2332a"/>
<circle cx="595.6" cy="329.9" r="1.6" fill="#e2332a"/>
<circle cx="608.1" cy="309.0" r="1.6" fill="#e2332a"/>
<circle cx="596.7" cy="329.0" r="1.6" fill="#e2332a"/>
<circle cx="601.6" cy="287.4" r="1.6" fill="#e2332a"/>
<circle cx="598.2" cy="298.3" r="1.6" fill="#e2332a"/>
<circle cx="597.9" cy="230.7" r="1.6" fill="#e2332a"/>
<circle cx="604.9" cy="222.3" r="1.6" fill="#e2332a"/>
<circle cx="600.2" cy="309.7" r="1.6" fill="#e2332a"/>
<circle cx="608.1" cy="270.7" r="1.6" fill="#e2332a"/>
<circle cx="596.7" cy="309.3" r="1.6" fill="#e2332a"/>
<circle cx="608.8" cy="262.3" r="1.6" fill="#e2332a"/>
<circle cx="599.8" cy="286.2" r="1.6" fill="#e2332a"/>
<circle cx="598.3" cy="320.9" r="1.6" fill="#e2332a"/>
<circle cx="606.5" cy="317.0" r="1.6" fill="#e2332a"/>
<circle cx="595.2" cy="242.0" r="1.6" fill="#e2332a"/>
<circle cx="596.9" cy="308.4" r="1.6" fill="#e2332a"/>
<circle cx="595.5" cy="222.6" r="1.6" fill="#e2332a"/>
<circle cx="597.0" cy="305.6" r="1.6" fill="#e2332a"/>
<circle cx="595.3" cy="312.7" r="1.6" fill="#e2332a"/>
<circle cx="613.4" cy="318.9" r="1.6" fill="#e2332a"/>
<circle cx="596.7" cy="308.3" r="1.6" fill="#e2332a"/>
<circle cx="601.8" cy="324.8" r="1.6" fill="#e2332a"/>
<circle cx="596.0" cy="306.3" r="1.6" fill="#e2332a"/>
<circle cx="595.3" cy="290.4" r="1.6" fill="#e2332a"/>
<circle cx="596.2" cy="292.8" r="1.6" fill="#e2332a"/>
<circle cx="597.4" cy="233.7" r="1.6" fill="#e2332a"/>
<circle cx="602.4" cy="312.2" r="1.6" fill="#e2332a"/>
<circle cx="608.6" cy="296.8" r="1.6" fill="#e2332a"/>
<circle cx="600.1" cy="322.6" r="1.6" fill="#e2332a"/>
<circle cx="599.4" cy="309.4" r="1.6" fill="#e2332a"/>
<circle cx="599.0" cy="323.1" r="1.6" fill="#e2332a"/>
<circle cx="597.8" cy="325.3" r="1.6" fill="#e2332a"/>
<circle cx="596.1" cy="264.1" r="1.6" fill="#e2332a"/>
<circle cx="620.9" cy="326.9" r="1.6" fill="#e2332a"/>
<circle cx="597.8" cy="320.8" r="1.6" fill="#e2332a"/>
<circle cx="598.5" cy="324.4" r="1.6" fill="#e2332a"/>
<circle cx="601.5" cy="283.4" r="1.6" fill="#e2332a"/>
<circle cx="598.1" cy="325.1" r="1.6" fill="#e2332a"/>
<circle cx="598.4" cy="228.9" r="1.6" fill="#e2332a"/>
<circle cx="602.2" cy="309.4" r="1.6" fill="#e2332a"/>
<circle cx="603.9" cy="283.8" r="1.6" fill="#e2332a"/>
<circle cx="597.7" cy="278.7" r="1.6" fill="#e2332a"/>
<circle cx="598.0" cy="275.1" r="1.6" fill="#e2332a"/>
<circle cx="602.1" cy="312.4" r="1.6" fill="#e2332a"/>
<circle cx="602.3" cy="217.4" r="1.6" fill="#e2332a"/>
<circle cx="597.9" cy="255.4" r="1.6" fill="#e2332a"/>
<circle cx="596.7" cy="325.5" r="1.6" fill="#e2332a"/>
<circle cx="600.2" cy="326.0" r="1.6" fill="#e2332a"/>
<circle cx="599.2" cy="278.0" r="1.6" fill="#e2332a"/>
<circle cx="597.6" cy="271.0" r="1.6" fill="#e2332a"/>
<circle cx="611.6" cy="274.5" r="1.6" fill="#e2332a"/>
<circle cx="595.6" cy="318.9" r="1.6" fill="#e2332a"/>
<circle cx="602.1" cy="320.2" r="1.6" fill="#e2332a"/>
<circle cx="602.1" cy="330.8" r="1.6" fill="#e2332a"/>
<circle cx="598.4" cy="288.5" r="1.6" fill="#e2332a"/>
<circle cx="614.6" cy="276.3" r="1.6" fill="#e2332a"/>
<circle cx="595.9" cy="287.3" r="1.6" fill="#e2332a"/>
<circle cx="598.3" cy="306.1" r="1.6" fill="#e2332a"/>
<circle cx="601.9" cy="328.1" r="1.6" fill="#e2332a"/>
<circle cx="600.4" cy="329.7" r="1.6" fill="#e2332a"/>
<circle cx="598.8" cy="281.9" r="1.6" fill="#e2332a"/>
<circle cx="604.6" cy="302.3" r="1.6" fill="#e2332a"/>
<circle cx="604.4" cy="309.7" r="1.6" fill="#e2332a"/>
<circle cx="601.7" cy="270.7" r="1.6" fill="#e2332a"/>
<circle cx="596.0" cy="273.6" r="1.6" fill="#e2332a"/>
<circle cx="608.7" cy="307.1" r="1.6" fill="#e2332a"/>
<circle cx="599.2" cy="204.4" r="1.6" fill="#e2332a"/>
<circle cx="596.7" cy="243.8" r="1.6" fill="#e2332a"/>
<circle cx="599.1" cy="274.6" r="1.6" fill="#e2332a"/>
<circle cx="606.4" cy="248.1" r="1.6" fill="#e2332a"/>
<circle cx="606.1" cy="229.7" r="1.6" fill="#e2332a"/>
<circle cx="614.6" cy="311.4" r="1.6" fill="#e2332a"/>
<circle cx="602.7" cy="306.1" r="1.6" fill="#e2332a"/>
<circle cx="598.0" cy="293.0" r="1.6" fill="#e2332a"/>
<circle cx="608.7" cy="314.2" r="1.6" fill="#e2332a"/>
<circle cx="612.6" cy="244.4" r="1.6" fill="#e2332a"/>
<circle cx="597.5" cy="307.5" r="1.6" fill="#e2332a"/>
<circle cx="599.6" cy="228.0" r="1.6" fill="#e2332a"/>
<circle cx="601.0" cy="242.1" r="1.6" fill="#e2332a"/>
<circle cx="600.1" cy="308.7" r="1.6" fill="#e2332a"/>
<circle cx="619.1" cy="293.5" r="1.6" fill="#e2332a"/>
<circle cx="598.8" cy="264.2" r="1.6" fill="#e2332a"/>
<circle cx="597.0" cy="275.3" r="1.6" fill="#e2332a"/>
<circle cx="609.0" cy="278.1" r="1.6" fill="#e2332a"/>
<circle cx="604.4" cy="269.3" r="1.6" fill="#e2332a"/>
<circle cx="598.4" cy="272.6" r="1.6" fill="#e2332a"/>
<circle cx="604.4" cy="310.9" r="1.6" fill="#e2332a"/>
<circle cx="596.9" cy="236.1" r="1.6" fill="#e2332a"/>
<circle cx="600.2" cy="226.6" r="1.6" fill="#e2332a"/>
<circle cx="614.2" cy="318.7" r="1.6" fill="#e2332a"/>
<circle cx="598.0" cy="312.3" r="1.6" fill="#e2332a"/>
<circle cx="599.0" cy="285.6" r="1.6" fill="#e2332a"/>
<circle cx="604.0" cy="220.5" r="1.6" fill="#e2332a"/>
<circle cx="595.7" cy="201.5" r="1.6" fill="#e2332a"/>
<circle cx="597.1" cy="247.4" r="1.6" fill="#e2332a"/>
<circle cx="607.8" cy="282.2" r="1.6" fill="#e2332a"/>
<circle cx="595.2" cy="288.4" r="1.6" fill="#e2332a"/>
<circle cx="603.6" cy="234.7" r="1.6" fill="#e2332a"/>
<circle cx="597.1" cy="278.0" r="1.6" fill="#e2332a"/>
<circle cx="604.3" cy="297.2" r="1.6" fill="#e2332a"/>
<circle cx="596.0" cy="307.9" r="1.6" fill="#e2332a"/>
<circle cx="619.5" cy="323.8" r="1.6" fill="#e2332a"/>
<circle cx="600.2" cy="308.0" r="1.6" fill="#e2332a"/>
<circle cx="608.1" cy="321.3" r="1.6" fill="#e2332a"/>
<circle cx="601.6" cy="304.8" r="1.6" fill="#e2332a"/>
<circle cx="602.5" cy="326.9" r="1.6" fill="#e2332a"/>
<circle cx="597.0" cy="229.7" r="1.6" fill="#e2332a"/>
<circle cx="597.2" cy="251.6" r="1.6" fill="#e2332a"/>
<circle cx="597.2" cy="286.5" r="1.6" fill="#e2332a"/>
<circle cx="598.4" cy="322.3" r="1.6" fill="#e2332a"/>
<circle cx="602.4" cy="315.4" r="1.6" fill="#e2332a"/>
<circle cx="595.5" cy="244.7" r="1.6" fill="#e2332a"/>
<circle cx="596.1" cy="290.7" r="1.6" fill="#e2332a"/>
<circle cx="595.6" cy="245.0" r="1.6" fill="#e2332a"/>
<circle cx="604.9" cy="297.3" r="1.6" fill="#e2332a"/>
<circle cx="596.3" cy="328.3" r="1.6" fill="#e2332a"/>
<circle cx="597.8" cy="322.3" r="1.6" fill="#e2332a"/>
<circle cx="595.3" cy="229.2" r="1.6" fill="#e2332a"/>
<circle cx="599.7" cy="236.0" r="1.6" fill="#e2332a"/>
<circle cx="598.5" cy="308.1" r="1.6" fill="#e2332a"/>
<circle cx="606.4" cy="270.4" r="1.6" fill="#e2332a"/>
<circle cx="598.6" cy="228.3" r="1.6" fill="#e2332a"/>
<circle cx="601.5" cy="323.6" r="1.6" fill="#e2332a"/>
<circle cx="602.8" cy="274.5" r="1.6" fill="#e2332a"/>
<circle cx="595.6" cy="326.9" r="1.6" fill="#e2332a"/>
<circle cx="602.2" cy="255.3" r="1.6" fill="#e2332a"/>
<circle cx="601.0" cy="253.4" r="1.6" fill="#e2332a"/>
<circle cx="598.3" cy="318.0" r="1.6" fill="#e2332a"/>
<circle cx="595.6" cy="243.0" r="1.6" fill="#e2332a"/>
<circle cx="613.8" cy="327.1" r="1.6" fill="#e2332a"/>
<circle cx="600.9" cy="278.2" r="1.6" fill="#e2332a"/>
<circle cx="604.7" cy="324.6" r="1.6" fill="#e2332a"/>
<circle cx="597.0" cy="315.5" r="1.6" fill="#e2332a"/>
<circle cx="595.8" cy="287.6" r="1.6" fill="#e2332a"/>
<circle cx="601.3" cy="285.2" r="1.6" fill="#e2332a"/>
<circle cx="596.0" cy="272.3" r="1.6" fill="#e2332a"/>
<circle cx="607.6" cy="270.0" r="1.6" fill="#e2332a"/>
<circle cx="598.3" cy="230.2" r="1.6" fill="#e2332a"/>
<circle cx="600.5" cy="270.8" r="1.6" fill="#e2332a"/>
<circle cx="598.6" cy="275.4" r="1.6" fill="#e2332a"/>
<circle cx="605.9" cy="312.6" r="1.6" fill="#e2332a"/>
<circle cx="608.5" cy="293.4" r="1.6" fill="#e2332a"/>
<circle cx="611.7" cy="248.9" r="1.6" fill="#e2332a"/>
<circle cx="599.7" cy="246.3" r="1.6" fill="#e2332a"/>
<circle cx="611.4" cy="291.5" r="1.6" fill="#e2332a"/>
<circle cx="606.9" cy="313.6" r="1.6" fill="#e2332a"/>
<circle cx="602.1" cy="293.4" r="1.6" fill="#e2332a"/>
<circle cx="616.2" cy="304.4" r="1.6" fill="#e2332a"/>
<circle cx="596.7" cy="287.2" r="1.6" fill="#e2332a"/>
<circle cx="595.3" cy="274.5" r="1.6" fill="#e2332a"/>
<circle cx="605.7" cy="247.4" r="1.6" fill="#e2332a"/>
<circle cx="595.5" cy="313.9" r="1.6" fill="#e2332a"/>
<circle cx="599.8" cy="287.7" r="1.6" fill="#e2332a"/>
<circle cx="597.9" cy="278.5" r="1.6" fill="#e2332a"/>
<circle cx="596.4" cy="275.5" r="1.6" fill="#e2332a"/>
<circle cx="598.0" cy="273.9" r="1.6" fill="#e2332a"/>
<circle cx="598.1" cy="241.1" r="1.6" fill="#e2332a"/>
<circle cx="596.7" cy="329.2" r="1.6" fill="#e2332a"/>
<circle cx="597.5" cy="286.6" r="1.6" fill="#e2332a"/>
<circle cx="600.2" cy="263.5" r="1.6" fill="#e2332a"/>
<circle cx="603.0" cy="329.9" r="1.6" fill="#e2332a"/>
<circle cx="603.1" cy="300.5" r="1.6" fill="#e2332a"/>
<circle cx="598.5" cy="322.7" r="1.6" fill="#e2332a"/>
<circle cx="597.3" cy="250.8" r="1.6" fill="#e2332a"/>
<circle cx="595.2" cy="243.1" r="1.6" fill="#e2332a"/>
<circle cx="600.3" cy="313.6" r="1.6" fill="#e2332a"/>
<circle cx="596.4" cy="272.8" r="1.6" fill="#e2332a"/>
<circle cx="596.5" cy="274.8" r="1.6" fill="#e2332a"/>
<circle cx="597.8" cy="317.4" r="1.6" fill="#e2332a"/>
<circle cx="597.1" cy="312.6" r="1.6" fill="#e2332a"/>
<circle cx="606.2" cy="277.1" r="1.6" fill="#e2332a"/>
<circle cx="596.5" cy="314.2" r="1.6" fill="#e2332a"/>
<circle cx="617.2" cy="314.2" r="1.6" fill="#e2332a"/>
<circle cx="597.7" cy="241.6" r="1.6" fill="#e2332a"/>
<circle cx="599.3" cy="276.7" r="1.6" fill="#e2332a"/>
<circle cx="595.9" cy="293.8" r="1.6" fill="#e2332a"/>
<circle cx="608.4" cy="299.6" r="1.6" fill="#e2332a"/>
<circle cx="598.2" cy="327.9" r="1.6" fill="#e2332a"/>
<circle cx="597.3" cy="213.8" r="1.6" fill="#e2332a"/>
<circle cx="595.6" cy="208.1" r="1.6" fill="#e2332a"/>
<circle cx="612.9" cy="271.0" r="1.6" fill="#e2332a"/>
<circle cx="596.2" cy="245.4" r="1.6" fill="#e2332a"/>
<circle cx="600.4" cy="217.9" r="1.6" fill="#e2332a"/>
<circle cx="606.8" cy="318.0" r="1.6" fill="#e2332a"/>
<circle cx="597.5" cy="323.6" r="1.6" fill="#e2332a"/>
<circle cx="596.4" cy="254.6" r="1.6" fill="#e2332a"/>
<circle cx="598.0" cy="298.5" r="1.6" fill="#e2332a"/>
<circle cx="603.2" cy="330.2" r="1.6" fill="#e2332a"/>
<circle cx="607.1" cy="313.4" r="1.6" fill="#e2332a"/>
<circle cx="598.5" cy="307.1" r="1.6" fill="#e2332a"/>
<circle cx="600.9" cy="276.7" r="1.6" fill="#e2332a"/>
<circle cx="613.8" cy="315.2" r="1.6" fill="#e2332a"/>
<circle cx="612.2" cy="312.6" r="1.6" fill="#e2332a"/>
<circle cx="595.4" cy="330.3" r="1.6" fill="#e2332a"/>
<circle cx="598.2" cy="288.2" r="1.6" fill="#e2332a"/>
<circle cx="614.2" cy="320.0" r="1.6" fill="#e2332a"/>
<circle cx="597.7" cy="328.3" r="1.6" fill="#e2332a"/>
<circle cx="595.5" cy="302.9" r="1.6" fill="#e2332a"/>
<circle cx="598.5" cy="264.1" r="1.6" fill="#e2332a"/>
<circle cx="609.5" cy="210.2" r="1.6" fill="#e2332a"/>
<circle cx="597.8" cy="263.6" r="1.6" fill="#e2332a"/>
<circle cx="611.7" cy="243.2" r="1.6" fill="#e2332a"/>
<circle cx="598.0" cy="315.2" r="1.6" fill="#e2332a"/>
<circle cx="597.2" cy="205.3" r="1.6" fill="#e2332a"/>
<circle cx="600.9" cy="245.0" r="1.6" fill="#e2332a"/>
<circle cx="607.1" cy="328.6" r="1.6" fill="#e2332a"/>
<circle cx="603.7" cy="321.0" r="1.6" fill="#e2332a"/>
<circle cx="596.3" cy="246.9" r="1.6" fill="#e2332a"/>
<circle cx="617.5" cy="270.1" r="1.6" fill="#e2332a"/>
<circle cx="602.8" cy="311.2" r="1.6" fill="#e2332a"/>
<circle cx="604.6" cy="330.3" r="1.6" fill="#e2332a"/>
<circle cx="604.7" cy="296.3" r="1.6" fill="#e2332a"/>
<circle cx="601.1" cy="269.3" r="1.6" fill="#e2332a"/>
<circle cx="601.9" cy="321.2" r="1.6" fill="#e2332a"/>
<circle cx="603.6" cy="307.0" r="1.6" fill="#e2332a"/>
<circle cx="599.3" cy="313.2" r="1.6" fill="#e2332a"/>
<circle cx="597.0" cy="230.0" r="1.6" fill="#e2332a"/>
<circle cx="600.1" cy="304.4" r="1.6" fill="#e2332a"/>
<circle cx="600.9" cy="330.6" r="1.6" fill="#e2332a"/>
<circle cx="604.1" cy="298.4" r="1.6" fill="#e2332a"/>
<circle cx="596.5" cy="273.0" r="1.6" fill="#e2332a"/>
<circle cx="598.1" cy="293.0" r="1.6" fill="#e2332a"/>
<circle cx="599.9" cy="312.0" r="1.6" fill="#e2332a"/>
<circle cx="598.9" cy="303.0" r="1.6" fill="#e2332a"/>
<circle cx="603.3" cy="292.1" r="1.6" fill="#e2332a"/>
<circle cx="601.8" cy="240.5" r="1.6" fill="#e2332a"/>
<circle cx="602.2" cy="298.2" r="1.6" fill="#e2332a"/>
<circle cx="600.6" cy="309.3" r="1.6" fill="#e2332a"/>
<circle cx="601.1" cy="316.2" r="1.6" fill="#e2332a"/>
<circle cx="601.1" cy="250.2" r="1.6" fill="#e2332a"/>
<circle cx="597.2" cy="299.9" r="1.6" fill="#e2332a"/>
<circle cx="599.4" cy="209.7" r="1.6" fill="#e2332a"/>
<circle cx="602.5" cy="272.2" r="1.6" fill="#e2332a"/>
<circle cx="595.6" cy="292.0" r="1.6" fill="#e2332a"/>
<circle cx="601.6" cy="289.3" r="1.6" fill="#e2332a"/>
<circle cx="614.7" cy="330.7" r="1.6" fill="#e2332a"/>
<circle cx="601.3" cy="311.9" r="1.6" fill="#e2332a"/>
<circle cx="597.1" cy="252.7" r="1.6" fill="#e2332a"/>
<circle cx="597.1" cy="311.6" r="1.6" fill="#e2332a"/>
<circle cx="597.6" cy="271.1" r="1.6" fill="#e2332a"/>
<circle cx="597.2" cy="272.3" r="1.6" fill="#e2332a"/>
<circle cx="605.2" cy="303.5" r="1.6" fill="#e2332a"/>
<circle cx="600.1" cy="304.3" r="1.6" fill="#e2332a"/>
<circle cx="614.2" cy="322.2" r="1.6" fill="#e2332a"/>
<circle cx="608.9" cy="282.3" r="1.6" fill="#e2332a"/>
<circle cx="596.9" cy="287.1" r="1.6" fill="#e2332a"/>
<circle cx="616.0" cy="309.2" r="1.6" fill="#e2332a"/>
<circle cx="595.6" cy="223.9" r="1.6" fill="#e2332a"/>
<circle cx="595.6" cy="288.6" r="1.6" fill="#e2332a"/>
<circle cx="608.4" cy="289.9" r="1.6" fill="#e2332a"/>
<circle cx="600.5" cy="274.6" r="1.6" fill="#e2332a"/>
<circle cx="595.5" cy="328.3" r="1.6" fill="#e2332a"/>
<circle cx="603.8" cy="294.3" r="1.6" fill="#e2332a"/>
<circle cx="602.3" cy="330.5" r="1.6" fill="#e2332a"/>
<circle cx="615.7" cy="297.3" r="1.6" fill="#e2332a"/>
<circle cx="601.8" cy="312.6" r="1.6" fill="#e2332a"/>
<circle cx="616.9" cy="310.1" r="1.6" fill="#e2332a"/>
<circle cx="598.0" cy="284.6" r="1.6" fill="#e2332a"/>
<circle cx="602.7" cy="256.7" r="1.6" fill="#e2332a"/>
<circle cx="598.8" cy="236.3" r="1.6" fill="#e2332a"/>
<circle cx="600.1" cy="302.4" r="1.6" fill="#e2332a"/>
<circle cx="596.5" cy="285.5" r="1.6" fill="#e2332a"/>
<circle cx="612.0" cy="323.1" r="1.6" fill="#e2332a"/>
<circle cx="596.6" cy="313.9" r="1.6" fill="#e2332a"/>
<circle cx="599.1" cy="268.4" r="1.6" fill="#e2332a"/>
<circle cx="596.2" cy="223.5" r="1.6" fill="#e2332a"/>
<circle cx="614.2" cy="313.7" r="1.6" fill="#e2332a"/>
<circle cx="608.5" cy="265.9" r="1.6" fill="#e2332a"/>
<circle cx="600.7" cy="302.9" r="1.6" fill="#e2332a"/>
<circle cx="596.9" cy="297.4" r="1.6" fill="#e2332a"/>
<circle cx="620.2" cy="274.5" r="1.6" fill="#e2332a"/>
<circle cx="611.0" cy="252.5" r="1.6" fill="#e2332a"/>
<circle cx="612.5" cy="205.0" r="1.6" fill="#e2332a"/>
<circle cx="611.5" cy="238.0" r="1.6" fill="#e2332a"/>
<circle cx="613.5" cy="222.0" r="1.6" fill="#e2332a"/>
<circle cx="616.0" cy="287.0" r="1.6" fill="#e2332a"/>
<circle cx="618.5" cy="297.0" r="1.6" fill="#e2332a"/>
<circle cx="617.0" cy="305.0" r="1.6" fill="#e2332a"/>
<circle cx="620.0" cy="312.0" r="1.6" fill="#e2332a"/>
<circle cx="626.0" cy="318.0" r="1.6" fill="#e2332a"/>
<circle cx="628.0" cy="321.0" r="1.6" fill="#e2332a"/>
<circle cx="632.0" cy="324.0" r="1.6" fill="#e2332a"/>
<circle cx="636.0" cy="326.0" r="1.6" fill="#e2332a"/>
<circle cx="623.0" cy="316.0" r="1.6" fill="#e2332a"/>
<circle cx="622.0" cy="322.0" r="1.6" fill="#e2332a"/>
<circle cx="660.0" cy="328.0" r="1.6" fill="#e2332a"/>
<circle cx="625.9" cy="328.3" r="1.6" fill="#e2332a"/>
<circle cx="665.9" cy="326.8" r="1.6" fill="#e2332a"/>
<circle cx="681.8" cy="326.5" r="1.6" fill="#e2332a"/>
<circle cx="663.1" cy="327.2" r="1.6" fill="#e2332a"/>
<circle cx="673.0" cy="326.2" r="1.6" fill="#e2332a"/>
<circle cx="680.0" cy="327.2" r="1.6" fill="#e2332a"/>
<circle cx="673.3" cy="326.0" r="1.6" fill="#e2332a"/>
<circle cx="671.3" cy="326.1" r="1.6" fill="#e2332a"/>
<circle cx="672.8" cy="326.2" r="1.6" fill="#e2332a"/>
<circle cx="670.2" cy="327.2" r="1.6" fill="#e2332a"/>
<circle cx="681.5" cy="325.7" r="1.6" fill="#e2332a"/>
<circle cx="654.0" cy="328.0" r="1.6" fill="#e2332a"/>
<circle cx="682.0" cy="326.0" r="1.6" fill="#e2332a"/>
<circle cx="670.4" cy="326.7" r="1.6" fill="#e2332a"/>
<circle cx="634.9" cy="330.1" r="1.6" fill="#e2332a"/>
<circle cx="632.7" cy="328.4" r="1.6" fill="#e2332a"/>
<circle cx="651.5" cy="328.0" r="1.6" fill="#e2332a"/>
<circle cx="678.1" cy="325.9" r="1.6" fill="#e2332a"/>
<circle cx="645.1" cy="327.2" r="1.6" fill="#e2332a"/>
<circle cx="670.2" cy="327.1" r="1.6" fill="#e2332a"/>
<circle cx="680.3" cy="325.2" r="1.6" fill="#e2332a"/>
<circle cx="672.8" cy="326.4" r="1.6" fill="#e2332a"/>
<circle cx="661.8" cy="327.4" r="1.6" fill="#e2332a"/>
<circle cx="673.5" cy="326.1" r="1.6" fill="#e2332a"/>
<circle cx="673.5" cy="327.4" r="1.6" fill="#e2332a"/>
<circle cx="670.7" cy="327.6" r="1.6" fill="#e2332a"/>
<circle cx="621.0" cy="329.6" r="1.6" fill="#e2332a"/>
<circle cx="648.4" cy="321.2" r="1.6" fill="#e2332a"/>
<circle cx="670.5" cy="322.5" r="1.6" fill="#e2332a"/>
<circle cx="676.9" cy="325.4" r="1.6" fill="#e2332a"/>
<circle cx="682.9" cy="324.0" r="1.6" fill="#e2332a"/>
<circle cx="483.5" cy="329.0" r="1.4" fill="#7588d2"/>
<circle cx="485.5" cy="328.2" r="1.4" fill="#7588d2"/>
<circle cx="489.5" cy="328.7" r="1.4" fill="#7588d2"/>
<circle cx="507" cy="327.9" r="1.4" fill="#7588d2"/>
<circle cx="512.5" cy="329.0" r="1.4" fill="#7588d2"/>
<circle cx="516" cy="328.4" r="1.4" fill="#7588d2"/>
<circle cx="519" cy="329.2" r="1.4" fill="#7588d2"/>
<circle cx="523.5" cy="328.6" r="1.4" fill="#7588d2"/>
<circle cx="527" cy="329.0" r="1.4" fill="#7588d2"/>
<circle cx="531" cy="328.2" r="1.4" fill="#7588d2"/>
<circle cx="535.5" cy="328.0" r="1.4" fill="#7588d2"/>
<circle cx="538" cy="327.0" r="1.4" fill="#7588d2"/>
<circle cx="540" cy="327.8" r="1.4" fill="#7588d2"/>
<circle cx="542" cy="327.2" r="1.4" fill="#7588d2"/>
<circle cx="544" cy="328.2" r="1.4" fill="#7588d2"/>
<circle cx="546.5" cy="327.6" r="1.4" fill="#7588d2"/>
<circle cx="547.5" cy="328.6" r="1.4" fill="#7588d2"/>
</g>
<path d="M549.2 345.8V50.6M594.6 345.8V50.6" stroke="#2b2b2b" stroke-width="1.9" stroke-dasharray="16.2 16.7" stroke-dashoffset="-1.2" fill="none"/>
<path d="M464 329.4H696.1" stroke="#2b2b2b" stroke-width="1.9" stroke-dasharray="16.5 11.7 4 11.8" fill="none"/>
<rect x="448.5" y="50.6" width="247.6" height="295.2" fill="none" stroke="#666" stroke-width="2"/>
<path d="M444.6 333.8H448.5" stroke="#3a3a3a" stroke-width="1.8"/>
<text x="423.9" y="338.4" font-size="19.5" fill="#222" stroke="#222" textLength="10.3" lengthAdjust="spacingAndGlyphs">0</text>
<path d="M444.6 258.3H448.5" stroke="#3a3a3a" stroke-width="1.8"/>
<text x="418.7" y="262.9" font-size="19.5" fill="#222" stroke="#222" textLength="20.6" lengthAdjust="spacingAndGlyphs">25</text>
<path d="M444.6 182.8H448.5" stroke="#3a3a3a" stroke-width="1.8"/>
<text x="418.7" y="187.4" font-size="19.5" fill="#222" stroke="#222" textLength="20.6" lengthAdjust="spacingAndGlyphs">50</text>
<path d="M444.6 107.3H448.5" stroke="#3a3a3a" stroke-width="1.8"/>
<text x="418.7" y="111.9" font-size="19.5" fill="#222" stroke="#222" textLength="20.6" lengthAdjust="spacingAndGlyphs">75</text>
<path d="M458.8 345.8V349.7" stroke="#3a3a3a" stroke-width="1.8"/>
<text x="470.2" y="367.9" font-size="18.6" text-anchor="middle" fill="#222" stroke="#222">−5.0</text>
<path d="M515.0 345.8V349.7" stroke="#3a3a3a" stroke-width="1.8"/>
<text x="526.4" y="367.9" font-size="18.6" text-anchor="middle" fill="#222" stroke="#222">−2.5</text>
<path d="M571.3 345.8V349.7" stroke="#3a3a3a" stroke-width="1.8"/>
<text x="579.5" y="367.9" font-size="18.6" text-anchor="middle" fill="#222" stroke="#222">0.0</text>
<path d="M627.5 345.8V349.7" stroke="#3a3a3a" stroke-width="1.8"/>
<text x="635.8" y="367.9" font-size="18.6" text-anchor="middle" fill="#222" stroke="#222">2.5</text>
<path d="M683.8 345.8V349.7" stroke="#3a3a3a" stroke-width="1.8"/>
<text x="692.0" y="367.9" font-size="18.6" text-anchor="middle" fill="#222" stroke="#222">5.0</text>
<text x="600.3" y="392" font-size="19" text-anchor="middle" fill="#222" stroke="#222">log2 (fold change)</text>
<text x="400.6" y="190.5" font-size="19" text-anchor="middle" fill="#222" stroke="#222" transform="rotate(-90 400.6 190.5)">−log10 (p−value)</text>
<text x="704.4" y="169.4" font-size="19" fill="#222" stroke="#222" textLength="100.6" lengthAdjust="spacingAndGlyphs">significance</text>
<rect x="704.2" y="186" width="17.2" height="50.8" fill="#eeeef4"/>
<circle cx="713" cy="194.5" r="1.3" fill="#7a86cf"/><circle cx="713" cy="211.5" r="1.3" fill="#e2e2e4"/><circle cx="713" cy="228.4" r="1.3" fill="#ec6a48"/>
<text x="726.3" y="195" font-size="19" fill="#222" stroke="#222" textLength="118.8" lengthAdjust="spacingAndGlyphs">down (n = 24)</text>
<text x="726.3" y="214.4" font-size="19" fill="#222" stroke="#222" textLength="137" lengthAdjust="spacingAndGlyphs">non (n = 20440)</text>
<text x="726.3" y="233.6" font-size="19" fill="#222" stroke="#222" textLength="115.6" lengthAdjust="spacingAndGlyphs">up (n = 1194)</text>
</g>
<g id="panelC">
<text y="42.4" font-size="21.4" fill="#111"><tspan x="1054.5" textLength="92.3" lengthAdjust="spacingAndGlyphs">PCL-AD-4</tspan> <tspan x="1153.4" textLength="20.1" lengthAdjust="spacingAndGlyphs">vs</tspan> <tspan x="1178.9" textLength="74.0" lengthAdjust="spacingAndGlyphs">Control</tspan></text>
<path d="M1005.1 50.6V201.4M1005.1 261V360.2M1052.3 50.6V201.4M1052.3 261V360.2M1100 50.6V201.4M1100 261V360.2M1147.2 50.6V201.4M1147.2 261V360.2M1194.9 50.6V201.4M1194.9 261V360.2M1242.1 50.6V201.4M1242.1 261V360.2M1289.8 50.6V201.4M1289.8 261V360.2M1337 50.6V201.4M1337 261V360.2" stroke="#e6e6e6" stroke-width="1.3" fill="none"/>
<polyline points="958.2,189.4 962.5,192.7 966.4,195.3 966.9,193.0 967.7,188.2 968.5,186.5 969.1,182.8 973.0,185.4 974.7,183.1 977.0,178.8 980.3,181.4 981.6,178.5 983.5,173.4 984.6,170.5 986.3,173.2 987.3,170.3 987.9,165.3 988.6,162.3 990.2,163.9 990.8,161.9 991.1,157.0 991.7,155.4 992.2,151.0 992.3,149.3 992.9,145.8 993.8,143.4 994.3,138.4 995.0,137.3 995.5,132.1 996.2,129.9 998.8,131.5 999.6,129.5 1000.7,124.8 1001.1,123.0 1002.1,119.3 1004.4,117.7 1007.1,120.3 1008.2,117.9 1008.8,113.3 1009.6,111.6 1010.4,107.7 1012.0,102.8 1014.4,104.4 1014.9,102.3 1015.6,97.4 1016.3,96.4 1017.0,91.3 1017.5,89.9 1018.0,86.3 1021.0,87.6 1024.3,83.0 1026.6,84.9 1030.9,81.3 1033.5,82.6 1034.6,80.5 1035.2,76.4 1055.7,91.2 1057.7,90.2 1061.1,93.7 1063.9,95.5 1067.2,92.9 1068.5,90.2 1069.5,86.3 1071.0,84.0 1071.8,79.5 1073.2,77.0 1076.2,79.0 1078.5,76.2 1080.5,71.4 1082.8,68.1 1084.5,66.5 1086.7,62.4 1088.7,60.5 1092.7,63.8 1098.0,62.5 1101.9,64.8 1106.2,62.5 1110.2,63.8 1114.2,60.5 1118.5,58.8 1121.8,60.5 1125.1,62.5 1130.0,63.1 1135.0,64.1 1139.9,66.4 1142.6,68.7 1145.7,68.5 1148.2,70.4 1151.6,72.7 1155.0,73.2 1158.1,75.7 1161.0,78.5 1163.4,78.2 1165.9,81.6 1168.8,82.3 1171.3,84.6 1173.8,87.3 1176.7,88.0 1179.0,91.6 1181.8,91.5 1184.6,94.5 1187.7,97.2 1190.3,97.5 1193.3,101.1 1196.1,102.1 1198.9,104.9 1201.9,105.1 1204.4,107.7 1207.1,110.1 1209.7,109.9 1212.6,112.0 1217.6,111.1 1221.2,113.0 1224.2,113.4 1227.5,116.0 1230.8,117.7 1233.6,120.6 1236.4,122.0 1241.4,120.3 1244.1,123.1 1247.3,124.3 1249.9,127.0 1252.3,128.6 1255.6,125.3 1260.6,127.6 1264.0,130.0 1267.2,130.9 1270.6,132.1 1273.8,131.9 1277.2,134.8 1280.4,135.8 1283.4,137.7 1287.0,138.5 1292.0,137.8 1294.6,141.2 1296.9,142.4 1300.1,144.5 1303.5,145.1 1306.9,146.9 1310.1,147.4 1313.4,150.2 1316.7,151.7 1320.1,150.7 1323.4,152.4 1371.3,188.7" fill="none" stroke="#e12a26" stroke-width="2" stroke-linejoin="round"/>
<path d="M957.9 50.6V201.4" stroke="#1c1c1c" stroke-width="2" fill="none"/>
<path d="M954.8 187.9H957.9" stroke="#222" stroke-width="1.5"/>
<text x="952" y="194.3" font-size="18.4" text-anchor="end" fill="#222" stroke="#222">0.0</text>
<path d="M954.8 156.7H957.9" stroke="#222" stroke-width="1.5"/>
<text x="952" y="163.1" font-size="18.4" text-anchor="end" fill="#222" stroke="#222">0.1</text>
<path d="M954.8 125.5H957.9" stroke="#222" stroke-width="1.5"/>
<text x="952" y="131.9" font-size="18.4" text-anchor="end" fill="#222" stroke="#222">0.2</text>
<path d="M954.8 94.3H957.9" stroke="#222" stroke-width="1.5"/>
<text x="952" y="100.7" font-size="18.4" text-anchor="end" fill="#222" stroke="#222">0.3</text>
<path d="M954.8 63.1H957.9" stroke="#222" stroke-width="1.5"/>
<text x="952" y="69.5" font-size="18.4" text-anchor="end" fill="#222" stroke="#222">0.4</text>
<text x="1085.4" y="119.3" font-size="18.9" fill="#d9352e" stroke="#d9352e">Cell cycle</text>
<text x="1216" y="97.2" font-size="18.8" fill="#222" stroke="#222">Pvalue = 0.000167</text>
<text x="908.5" y="121.2" font-size="19" text-anchor="middle" fill="#222" stroke="#222" transform="rotate(-90 908.5 121.2)">Enrichment Score</text>
<path d="M965.8 205.9h4.0v35.5h-4.0zM974.7 205.9h1.7v35.5h-1.7zM978.7 205.9h1.7v35.5h-1.7zM982.3 205.9h5.6v35.5h-5.6zM989.6 205.9h7.3v35.5h-7.3zM998.8 205.9h1.7v35.5h-1.7zM1002.1 205.9h1.7v35.5h-1.7zM1006.1 205.9h5.9v35.5h-5.9zM1014.0 205.9h5.3v35.5h-5.3zM1021.3 205.9h1.3v35.5h-1.3zM1024.6 205.9h2.0v35.5h-2.0zM1028.6 205.9h2.0v35.5h-2.0zM1032.5 205.9h3.3v35.5h-3.3zM1055.7 205.9h1.7v35.5h-1.7zM1063.9 205.9h2.6v35.5h-2.6zM1068.2 205.9h7.9v35.5h-7.9zM1078.1 205.9h11.2v35.5h-11.2zM1096.3 205.9h2.3v35.5h-2.3zM1100.6 205.9h3.6v35.5h-3.6zM1106.2 205.9h5.6v35.5h-5.6zM1114.2 205.9h6.3v35.5h-6.3zM1125.7 205.9h2.6v35.5h-2.6zM1130.0 205.9h2.6v35.5h-2.6zM1135.0 205.9h2.3v35.5h-2.3zM1139.3 205.9h3.0v35.5h-3.0zM1145.6 205.9h4.0v35.5h-4.0zM1153.8 205.9h5.0v35.5h-5.0zM1166.4 205.9h2.6v35.5h-2.6zM1170.7 205.9h3.0v35.5h-3.0zM1175.3 205.9h1.3v35.5h-1.3zM1179.9 205.9h1.7v35.5h-1.7zM1187.2 205.9h2.3v35.5h-2.3zM1191.2 205.9h2.0v35.5h-2.0zM1196.1 205.9h2.0v35.5h-2.0zM1201.1 205.9h2.0v35.5h-2.0zM1209.0 205.9h17.2v35.5h-17.2zM1236.4 205.9h6.3v35.5h-6.3zM1252.3 205.9h4.3v35.5h-4.3zM1259.9 205.9h2.3v35.5h-2.3zM1266.5 205.9h8.3v35.5h-8.3zM1278.7 205.9h5.0v35.5h-5.0zM1290.3 205.9h2.6v35.5h-2.6zM1300.2 205.9h1.3v35.5h-1.3zM1303.5 205.9h2.0v35.5h-2.0zM1308.5 205.9h1.7v35.5h-1.7zM1313.4 205.9h2.0v35.5h-2.0zM1322.4 205.9h1.7v35.5h-1.7z" fill="#0a0a0a"/>
<rect x="958.2" y="241.2" width="48.2" height="15" fill="#a82424"/>
<rect x="1006.1" y="241.2" width="68.0" height="15" fill="#d8412f"/>
<rect x="1073.8" y="241.2" width="40.0" height="15" fill="#e9694b"/>
<rect x="1113.5" y="241.2" width="48.2" height="15" fill="#f0a384"/>
<rect x="1161.4" y="241.2" width="48.2" height="15" fill="#fad9ca"/>
<rect x="1209.3" y="241.2" width="18.5" height="15" fill="#d2d2de"/>
<rect x="1227.5" y="241.2" width="8.6" height="15" fill="#e9eef8"/>
<rect x="1235.8" y="241.2" width="6.9" height="15" fill="#cbd6e6"/>
<rect x="1242.4" y="241.2" width="23.4" height="15" fill="#b4cee2"/>
<rect x="1265.5" y="241.2" width="58.1" height="15" fill="#5c9dc9"/>
<rect x="1323.4" y="241.2" width="40.0" height="15" fill="#3f81bf"/>
<rect x="1363.0" y="241.2" width="8.9" height="15" fill="#2a5aa8"/>
<path d="M965.8 241.2h4.0v15h-4.0zM974.7 241.2h1.7v15h-1.7zM978.7 241.2h1.7v15h-1.7zM982.3 241.2h5.6v15h-5.6zM989.6 241.2h7.3v15h-7.3zM998.8 241.2h1.7v15h-1.7zM1002.1 241.2h1.7v15h-1.7zM1006.1 241.2h5.9v15h-5.9zM1014.0 241.2h5.3v15h-5.3zM1021.3 241.2h1.3v15h-1.3zM1024.6 241.2h2.0v15h-2.0zM1028.6 241.2h2.0v15h-2.0zM1032.5 241.2h3.3v15h-3.3zM1055.7 241.2h1.7v15h-1.7zM1063.9 241.2h2.6v15h-2.6zM1068.2 241.2h7.9v15h-7.9zM1078.1 241.2h11.2v15h-11.2zM1096.3 241.2h2.3v15h-2.3zM1100.6 241.2h3.6v15h-3.6zM1106.2 241.2h5.6v15h-5.6zM1114.2 241.2h6.3v15h-6.3zM1125.7 241.2h2.6v15h-2.6zM1130.0 241.2h2.6v15h-2.6zM1135.0 241.2h2.3v15h-2.3zM1139.3 241.2h3.0v15h-3.0zM1145.6 241.2h4.0v15h-4.0zM1153.8 241.2h5.0v15h-5.0zM1166.4 241.2h2.6v15h-2.6zM1170.7 241.2h3.0v15h-3.0zM1175.3 241.2h1.3v15h-1.3zM1179.9 241.2h1.7v15h-1.7zM1187.2 241.2h2.3v15h-2.3zM1191.2 241.2h2.0v15h-2.0zM1196.1 241.2h2.0v15h-2.0zM1201.1 241.2h2.0v15h-2.0zM1209.0 241.2h17.2v15h-17.2zM1236.4 241.2h6.3v15h-6.3zM1252.3 241.2h4.3v15h-4.3zM1259.9 241.2h2.3v15h-2.3zM1266.5 241.2h8.3v15h-8.3zM1278.7 241.2h5.0v15h-5.0zM1290.3 241.2h2.6v15h-2.6zM1300.2 241.2h1.3v15h-1.3zM1303.5 241.2h2.0v15h-2.0zM1308.5 241.2h1.7v15h-1.7zM1313.4 241.2h2.0v15h-2.0zM1322.4 241.2h1.7v15h-1.7z" fill="#000" fill-opacity="0.07"/>
<path d="M958.1 205.9V256.2" stroke="#1c1c1c" stroke-width="2"/>
<path d="M958.2 276.6 L959.2 282.5 L960.5 286.5 L962.5 290.8 L964.8 294.1 L968.1 296.4 L973.0 298.4 L981.3 300.7 L989.6 302.4 L997.8 303.7 L1006.1 305.0 L1017.7 306.3 L1029.2 307.3 L1042.4 307.8 L1055.7 308.0 L1063.9 308.3 L1072.2 309.0 L1088.7 310.6 L1105.2 312.3 L1121.8 313.4 L1138.3 314.3 L1154.8 315.1 L1171.3 315.6 L958.2 315.6ZM1171.3 315.6 L1187.9 316.4 L1204.4 316.9 L1220.9 317.2 L1237.4 317.6 L1254.0 317.9 L1270.5 318.2 L1287.0 318.9 L1303.5 319.9 L1311.8 320.9 L1320.1 322.2 L1325.0 324.2 L1330.0 326.2 L1336.6 327.8 L1344.8 328.5 L1353.1 328.8 L1356.4 331.1 L1359.7 333.8 L1363.0 336.1 L1366.3 338.7 L1368.3 342.0 L1369.6 345.3 L1370.6 350.3 L1371.6 356.9 L1371.6 315.6Z" fill="#c0c0c0"/>
<path d="M958 261V360.2H1371.8" stroke="#1c1c1c" stroke-width="2" fill="none"/>
<path d="M954.8 262.9H958" stroke="#222" stroke-width="1.5"/>
<text x="952" y="269.2" font-size="18.4" text-anchor="end" fill="#222" stroke="#222">5.0</text>
<path d="M954.8 289.2H958" stroke="#222" stroke-width="1.5"/>
<text x="952" y="295.6" font-size="18.4" text-anchor="end" fill="#222" stroke="#222">2.5</text>
<path d="M954.8 315.6H958" stroke="#222" stroke-width="1.5"/>
<text x="952" y="322.0" font-size="18.4" text-anchor="end" fill="#222" stroke="#222">0.0</text>
<path d="M954.8 342.0H958" stroke="#222" stroke-width="1.5"/>
<text x="952" y="348.4" font-size="18.4" text-anchor="end" fill="#222" stroke="#222">−2.5</text>
<path d="M1052.3 360.2V363.6" stroke="#222" stroke-width="1.2"/>
<text x="1057.7" y="381.3" font-size="18.6" text-anchor="middle" fill="#222" stroke="#222">5000</text>
<path d="M1147.2 360.2V363.6" stroke="#222" stroke-width="1.2"/>
<text x="1155.5" y="381.3" font-size="18.6" text-anchor="middle" fill="#222" stroke="#222">10000</text>
<path d="M1242.1 360.2V363.6" stroke="#222" stroke-width="1.2"/>
<text x="1250.4" y="381.3" font-size="18.6" text-anchor="middle" fill="#222" stroke="#222">15000</text>
<path d="M1337.0 360.2V363.6" stroke="#222" stroke-width="1.2"/>
<text x="1345.3" y="381.3" font-size="18.6" text-anchor="middle" fill="#222" stroke="#222">20000</text>
<text x="1194.5" y="404" font-size="19.2" text-anchor="middle" fill="#222" stroke="#222">Rank in Ordered Dataset</text>
<text x="908.5" y="304.5" font-size="19" text-anchor="middle" fill="#222" stroke="#222" transform="rotate(-90 908.5 304.5)">Ranked List Metric</text>
</g>
<g id="panelD">
<text y="455.2" font-size="21.4" fill="#111"><tspan x="358.6" textLength="92.0" lengthAdjust="spacingAndGlyphs">PCL-AD-4</tspan> <tspan x="458.1" textLength="20.2" lengthAdjust="spacingAndGlyphs">vs</tspan> <tspan x="483.3" textLength="74.2" lengthAdjust="spacingAndGlyphs">Control</tspan> <tspan x="563.0" textLength="119.5" lengthAdjust="spacingAndGlyphs">upregulated</tspan> <tspan x="690.6" textLength="56.9" lengthAdjust="spacingAndGlyphs">genes</tspan></text>
<path d="M423.2 474.8V723.1M500.0 474.8V723.1M576.6 474.8V723.1M653.4 474.8V723.1" stroke="#f0f0f0" stroke-width="1.4" fill="none"/>
<path d="M461.6 474.8V723.1M538.3 474.8V723.1M615.0 474.8V723.1M691.7 474.8V723.1M418.7 498.1H698.2M418.7 538.3H698.2M418.7 578.5H698.2M418.7 618.8H698.2M418.7 659H698.2M418.7 699.2H698.2" stroke="#ebebeb" stroke-width="1.9" fill="none"/>
<rect x="418.7" y="474.8" width="279.5" height="248.3" fill="none" stroke="#505050" stroke-width="1.6"/>
<circle cx="684.0" cy="498.1" r="12.8" fill="#d6745c"/>
<circle cx="607.3" cy="538.3" r="11" fill="#b8382c"/>
<circle cx="584.3" cy="578.5" r="10.4" fill="#b9392c"/>
<circle cx="553.6" cy="618.8" r="9.7" fill="#ee9f86"/>
<circle cx="538.3" cy="659" r="9.4" fill="#a8202a"/>
<circle cx="430.9" cy="699.2" r="3.2" fill="#f4a98f"/>
<path d="M413.5 498.1H418.7" stroke="#3a3a3a" stroke-width="1.9"/>
<text x="207.2" y="502.0" font-size="18.7" fill="#222" stroke="#222" textLength="200.2" lengthAdjust="spacingAndGlyphs">regulation of translation</text>
<path d="M413.5 538.3H418.7" stroke="#3a3a3a" stroke-width="1.9"/>
<text x="274.7" y="542.2" font-size="18.7" fill="#222" stroke="#222" textLength="132.7" lengthAdjust="spacingAndGlyphs">DNA replication</text>
<path d="M413.5 578.5H418.7" stroke="#3a3a3a" stroke-width="1.9"/>
<text x="-0.5" y="582.4" font-size="18.7" fill="#222" stroke="#222" textLength="407.9" lengthAdjust="spacingAndGlyphs">regulation of response to DNA damage stimulus</text>
<path d="M413.5 618.8H418.7" stroke="#3a3a3a" stroke-width="1.9"/>
<text x="130.1" y="622.7" font-size="18.7" fill="#222" stroke="#222" textLength="277.3" lengthAdjust="spacingAndGlyphs">regulation of cell morphogenesis</text>
<path d="M413.5 659H418.7" stroke="#3a3a3a" stroke-width="1.9"/>
<text x="150.5" y="662.9" font-size="18.7" fill="#222" stroke="#222" textLength="256.9" lengthAdjust="spacingAndGlyphs">cell cycle checkpoint signaling</text>
<path d="M413.5 699.2H418.7" stroke="#3a3a3a" stroke-width="1.9"/>
<text x="171.8" y="703.1" font-size="18.7" fill="#222" stroke="#222" textLength="235.6" lengthAdjust="spacingAndGlyphs">regulation of wound healing</text>
<path d="M461.6 723.1V727.3000000000001" stroke="#333" stroke-width="1.7"/>
<text x="474.8" y="739.3" font-size="18.6" text-anchor="end" fill="#222" stroke="#222" transform="rotate(-45 474.8 739.3)">20</text>
<path d="M538.3 723.1V727.3000000000001" stroke="#333" stroke-width="1.7"/>
<text x="551.5" y="739.3" font-size="18.6" text-anchor="end" fill="#222" stroke="#222" transform="rotate(-45 551.5 739.3)">30</text>
<path d="M615.0 723.1V727.3000000000001" stroke="#333" stroke-width="1.7"/>
<text x="628.2" y="739.3" font-size="18.6" text-anchor="end" fill="#222" stroke="#222" transform="rotate(-45 628.2 739.3)">40</text>
<path d="M691.7 723.1V727.3000000000001" stroke="#333" stroke-width="1.7"/>
<text x="704.9" y="739.3" font-size="18.6" text-anchor="end" fill="#222" stroke="#222" transform="rotate(-45 704.9 739.3)">50</text>
<text x="565.6" y="784.6" font-size="19" text-anchor="middle" fill="#222" stroke="#222">Count</text>
<text x="721.6" y="555" font-size="17.5" fill="#222" stroke="#222">Count</text>
<circle cx="729.4" cy="577.5" r="6.9" fill="#0a0a0a"/>
<text x="753.6" y="583.1" font-size="19" fill="#222" stroke="#222">20</text>
<circle cx="729.4" cy="607.6" r="9.7" fill="#0a0a0a"/>
<text x="753.6" y="613.2" font-size="19" fill="#222" stroke="#222">30</text>
<circle cx="729.4" cy="638.3" r="11.9" fill="#0a0a0a"/>
<text x="753.6" y="643.9" font-size="19" fill="#222" stroke="#222">40</text>
<text x="797.6" y="555" font-size="19.4" fill="#222" stroke="#222">−log(pvalue)</text>
<defs><linearGradient id="gD" x1="0" y1="0" x2="0" y2="1"><stop offset="0" stop-color="#a51c27"/><stop offset="0.3" stop-color="#c0452f"/><stop offset="0.6" stop-color="#d97258"/><stop offset="1" stop-color="#f5b59b"/></linearGradient></defs>
<rect x="798" y="565.5" width="30.6" height="153.6" fill="url(#gD)"/>
<path d="M798 590.1h6.2M828.6 590.1h-6.2" stroke="#fff" stroke-width="1.3"/>
<text x="838.5" y="594.3" font-size="19" fill="#222" stroke="#222">15.0</text>
<path d="M798 623.2h6.2M828.6 623.2h-6.2" stroke="#fff" stroke-width="1.3"/>
<text x="838.5" y="627.4" font-size="19" fill="#222" stroke="#222">12.5</text>
<path d="M798 657.1h6.2M828.6 657.1h-6.2" stroke="#fff" stroke-width="1.3"/>
<text x="838.5" y="661.3" font-size="19" fill="#222" stroke="#222">10.0</text>
<path d="M798 691.0h6.2M828.6 691.0h-6.2" stroke="#fff" stroke-width="1.3"/>
<text x="838.5" y="695.2" font-size="19" fill="#222" stroke="#222">7.5</text>
</g>
<g id="panelE">
<rect x="1024.1" y="455.2" width="30.05" height="24.95" fill="#3b5389" stroke="#dcdcdc" stroke-opacity="0.62" stroke-width="1.1"/>
<rect x="1054.1" y="455.2" width="30.05" height="24.95" fill="#21788a" stroke="#dcdcdc" stroke-opacity="0.62" stroke-width="1.1"/>
<rect x="1084.2" y="455.2" width="30.05" height="24.95" fill="#46287a" stroke="#dcdcdc" stroke-opacity="0.62" stroke-width="1.1"/>
<rect x="1114.2" y="455.2" width="30.05" height="24.95" fill="#26828b" stroke="#dcdcdc" stroke-opacity="0.62" stroke-width="1.1"/>
<rect x="1144.3" y="455.2" width="30.05" height="24.95" fill="#6cc264" stroke="#dcdcdc" stroke-opacity="0.62" stroke-width="1.1"/>
<rect x="1174.3" y="455.2" width="30.05" height="24.95" fill="#e3df2d" stroke="#dcdcdc" stroke-opacity="0.62" stroke-width="1.1"/>
<rect x="1024.1" y="480.2" width="30.05" height="24.95" fill="#31648c" stroke="#dcdcdc" stroke-opacity="0.62" stroke-width="1.1"/>
<rect x="1054.1" y="480.2" width="30.05" height="24.95" fill="#37578b" stroke="#dcdcdc" stroke-opacity="0.62" stroke-width="1.1"/>
<rect x="1084.2" y="480.2" width="30.05" height="24.95" fill="#47307e" stroke="#dcdcdc" stroke-opacity="0.62" stroke-width="1.1"/>
<rect x="1114.2" y="480.2" width="30.05" height="24.95" fill="#25858b" stroke="#dcdcdc" stroke-opacity="0.62" stroke-width="1.1"/>
<rect x="1144.3" y="480.2" width="30.05" height="24.95" fill="#9ecf42" stroke="#dcdcdc" stroke-opacity="0.62" stroke-width="1.1"/>
<rect x="1174.3" y="480.2" width="30.05" height="24.95" fill="#bdd930" stroke="#dcdcdc" stroke-opacity="0.62" stroke-width="1.1"/>
<rect x="1024.1" y="505.1" width="30.05" height="24.95" fill="#31648c" stroke="#dcdcdc" stroke-opacity="0.62" stroke-width="1.1"/>
<rect x="1054.1" y="505.1" width="30.05" height="24.95" fill="#37578b" stroke="#dcdcdc" stroke-opacity="0.62" stroke-width="1.1"/>
<rect x="1084.2" y="505.1" width="30.05" height="24.95" fill="#47307e" stroke="#dcdcdc" stroke-opacity="0.62" stroke-width="1.1"/>
<rect x="1114.2" y="505.1" width="30.05" height="24.95" fill="#25828b" stroke="#dcdcdc" stroke-opacity="0.62" stroke-width="1.1"/>
<rect x="1144.3" y="505.1" width="30.05" height="24.95" fill="#6cc264" stroke="#dcdcdc" stroke-opacity="0.62" stroke-width="1.1"/>
<rect x="1174.3" y="505.1" width="30.05" height="24.95" fill="#f3df31" stroke="#dcdcdc" stroke-opacity="0.62" stroke-width="1.1"/>
<rect x="1024.1" y="530.1" width="30.05" height="24.95" fill="#3f4488" stroke="#dcdcdc" stroke-opacity="0.62" stroke-width="1.1"/>
<rect x="1054.1" y="530.1" width="30.05" height="24.95" fill="#3f4488" stroke="#dcdcdc" stroke-opacity="0.62" stroke-width="1.1"/>
<rect x="1084.2" y="530.1" width="30.05" height="24.95" fill="#31648c" stroke="#dcdcdc" stroke-opacity="0.62" stroke-width="1.1"/>
<rect x="1114.2" y="530.1" width="30.05" height="24.95" fill="#25858b" stroke="#dcdcdc" stroke-opacity="0.62" stroke-width="1.1"/>
<rect x="1144.3" y="530.1" width="30.05" height="24.95" fill="#86cb52" stroke="#dcdcdc" stroke-opacity="0.62" stroke-width="1.1"/>
<rect x="1174.3" y="530.1" width="30.05" height="24.95" fill="#dfdd2a" stroke="#dcdcdc" stroke-opacity="0.62" stroke-width="1.1"/>
<rect x="1024.1" y="555.0" width="30.05" height="24.95" fill="#452e80" stroke="#dcdcdc" stroke-opacity="0.62" stroke-width="1.1"/>
<rect x="1054.1" y="555.0" width="30.05" height="24.95" fill="#33608c" stroke="#dcdcdc" stroke-opacity="0.62" stroke-width="1.1"/>
<rect x="1084.2" y="555.0" width="30.05" height="24.95" fill="#37578b" stroke="#dcdcdc" stroke-opacity="0.62" stroke-width="1.1"/>
<rect x="1114.2" y="555.0" width="30.05" height="24.95" fill="#25888a" stroke="#dcdcdc" stroke-opacity="0.62" stroke-width="1.1"/>
<rect x="1144.3" y="555.0" width="30.05" height="24.95" fill="#8ccc4c" stroke="#dcdcdc" stroke-opacity="0.62" stroke-width="1.1"/>
<rect x="1174.3" y="555.0" width="30.05" height="24.95" fill="#d7db2c" stroke="#dcdcdc" stroke-opacity="0.62" stroke-width="1.1"/>
<rect x="1024.1" y="580.0" width="30.05" height="24.95" fill="#43388a" stroke="#dcdcdc" stroke-opacity="0.62" stroke-width="1.1"/>
<rect x="1054.1" y="580.0" width="30.05" height="24.95" fill="#2a7089" stroke="#dcdcdc" stroke-opacity="0.62" stroke-width="1.1"/>
<rect x="1084.2" y="580.0" width="30.05" height="24.95" fill="#3f4488" stroke="#dcdcdc" stroke-opacity="0.62" stroke-width="1.1"/>
<rect x="1114.2" y="580.0" width="30.05" height="24.95" fill="#229185" stroke="#dcdcdc" stroke-opacity="0.62" stroke-width="1.1"/>
<rect x="1144.3" y="580.0" width="30.05" height="24.95" fill="#b5d534" stroke="#dcdcdc" stroke-opacity="0.62" stroke-width="1.1"/>
<rect x="1174.3" y="580.0" width="30.05" height="24.95" fill="#a2d03e" stroke="#dcdcdc" stroke-opacity="0.62" stroke-width="1.1"/>
<rect x="1024.1" y="605.0" width="30.05" height="24.95" fill="#3f4488" stroke="#dcdcdc" stroke-opacity="0.62" stroke-width="1.1"/>
<rect x="1054.1" y="605.0" width="30.05" height="24.95" fill="#3f4488" stroke="#dcdcdc" stroke-opacity="0.62" stroke-width="1.1"/>
<rect x="1084.2" y="605.0" width="30.05" height="24.95" fill="#3f4488" stroke="#dcdcdc" stroke-opacity="0.62" stroke-width="1.1"/>
<rect x="1114.2" y="605.0" width="30.05" height="24.95" fill="#2eb07c" stroke="#dcdcdc" stroke-opacity="0.62" stroke-width="1.1"/>
<rect x="1144.3" y="605.0" width="30.05" height="24.95" fill="#86cb52" stroke="#dcdcdc" stroke-opacity="0.62" stroke-width="1.1"/>
<rect x="1174.3" y="605.0" width="30.05" height="24.95" fill="#a8d13a" stroke="#dcdcdc" stroke-opacity="0.62" stroke-width="1.1"/>
<rect x="1024.1" y="629.9" width="30.05" height="24.95" fill="#3f4488" stroke="#dcdcdc" stroke-opacity="0.62" stroke-width="1.1"/>
<rect x="1054.1" y="629.9" width="30.05" height="24.95" fill="#355f8d" stroke="#dcdcdc" stroke-opacity="0.62" stroke-width="1.1"/>
<rect x="1084.2" y="629.9" width="30.05" height="24.95" fill="#46307e" stroke="#dcdcdc" stroke-opacity="0.62" stroke-width="1.1"/>
<rect x="1114.2" y="629.9" width="30.05" height="24.95" fill="#25a283" stroke="#dcdcdc" stroke-opacity="0.62" stroke-width="1.1"/>
<rect x="1144.3" y="629.9" width="30.05" height="24.95" fill="#8ccc4c" stroke="#dcdcdc" stroke-opacity="0.62" stroke-width="1.1"/>
<rect x="1174.3" y="629.9" width="30.05" height="24.95" fill="#b8d632" stroke="#dcdcdc" stroke-opacity="0.62" stroke-width="1.1"/>
<rect x="1024.1" y="654.9" width="30.05" height="24.95" fill="#3f4488" stroke="#dcdcdc" stroke-opacity="0.62" stroke-width="1.1"/>
<rect x="1054.1" y="654.9" width="30.05" height="24.95" fill="#33638c" stroke="#dcdcdc" stroke-opacity="0.62" stroke-width="1.1"/>
<rect x="1084.2" y="654.9" width="30.05" height="24.95" fill="#3f4488" stroke="#dcdcdc" stroke-opacity="0.62" stroke-width="1.1"/>
<rect x="1114.2" y="654.9" width="30.05" height="24.95" fill="#22a083" stroke="#dcdcdc" stroke-opacity="0.62" stroke-width="1.1"/>
<rect x="1144.3" y="654.9" width="30.05" height="24.95" fill="#7ac75a" stroke="#dcdcdc" stroke-opacity="0.62" stroke-width="1.1"/>
<rect x="1174.3" y="654.9" width="30.05" height="24.95" fill="#e9e02c" stroke="#dcdcdc" stroke-opacity="0.62" stroke-width="1.1"/>
<rect x="1024.1" y="679.8" width="30.05" height="24.95" fill="#3f4488" stroke="#dcdcdc" stroke-opacity="0.62" stroke-width="1.1"/>
<rect x="1054.1" y="679.8" width="30.05" height="24.95" fill="#3f4488" stroke="#dcdcdc" stroke-opacity="0.62" stroke-width="1.1"/>
<rect x="1084.2" y="679.8" width="30.05" height="24.95" fill="#3f4488" stroke="#dcdcdc" stroke-opacity="0.62" stroke-width="1.1"/>
<rect x="1114.2" y="679.8" width="30.05" height="24.95" fill="#239b85" stroke="#dcdcdc" stroke-opacity="0.62" stroke-width="1.1"/>
<rect x="1144.3" y="679.8" width="30.05" height="24.95" fill="#7ec858" stroke="#dcdcdc" stroke-opacity="0.62" stroke-width="1.1"/>
<rect x="1174.3" y="679.8" width="30.05" height="24.95" fill="#dfdd2a" stroke="#dcdcdc" stroke-opacity="0.62" stroke-width="1.1"/>
<rect x="1024.1" y="704.8" width="30.05" height="24.95" fill="#3b528b" stroke="#dcdcdc" stroke-opacity="0.62" stroke-width="1.1"/>
<rect x="1054.1" y="704.8" width="30.05" height="24.95" fill="#3b528b" stroke="#dcdcdc" stroke-opacity="0.62" stroke-width="1.1"/>
<rect x="1084.2" y="704.8" width="30.05" height="24.95" fill="#453380" stroke="#dcdcdc" stroke-opacity="0.62" stroke-width="1.1"/>
<rect x="1114.2" y="704.8" width="30.05" height="24.95" fill="#239288" stroke="#dcdcdc" stroke-opacity="0.62" stroke-width="1.1"/>
<rect x="1144.3" y="704.8" width="30.05" height="24.95" fill="#7ac75a" stroke="#dcdcdc" stroke-opacity="0.62" stroke-width="1.1"/>
<rect x="1174.3" y="704.8" width="30.05" height="24.95" fill="#dddc2b" stroke="#dcdcdc" stroke-opacity="0.62" stroke-width="1.1"/>
<path d="M975 486.8V586.2M975 486.8H994M994 467.7V505.6M994 467.7H1024.1M994 505.6H1004M1004 492.7V517.6M1004 492.7H1024.1M1004 517.6H1024.1M975 586.2H989M989 555.4V617M989 555.4H1005.8M1005.8 542.6V567.5M1005.8 542.6H1024.1M1005.8 567.5H1024.1M989 617H992.6M992.6 592.5V641.4M992.6 592.5H1024.1M992.6 641.4H997.6M997.6 617.4V665.3M997.6 617.4H1024.1M997.6 665.3H1005.8M1005.8 642.4V686.7M1005.8 642.4H1024.1M1005.8 686.7H1009.5M1009.5 667.3V706M1009.5 667.3H1024.1M1009.5 706H1013.2M1013.2 692.3V717.2M1013.2 692.3H1024.1M1013.2 717.2H1024.1" fill="none" stroke="#2a2a2a" stroke-width="1.2" stroke-linecap="square"/>
<text x="1210.9" y="474.0" font-size="17.7" fill="#222" stroke="#222" textLength="59.1" lengthAdjust="spacingAndGlyphs">CDKL5</text>
<text x="1210.9" y="499.0" font-size="17.7" fill="#222" stroke="#222" textLength="72.3" lengthAdjust="spacingAndGlyphs">TGFBR1</text>
<text x="1210.9" y="523.9" font-size="17.7" fill="#222" stroke="#222" textLength="91.6" lengthAdjust="spacingAndGlyphs">CDKN2AIP</text>
<text x="1210.9" y="548.9" font-size="17.7" fill="#222" stroke="#222" textLength="59.7" lengthAdjust="spacingAndGlyphs">MRE11</text>
<text x="1210.9" y="573.8" font-size="17.7" fill="#222" stroke="#222" textLength="45.8" lengthAdjust="spacingAndGlyphs">FZD6</text>
<text x="1210.9" y="598.8" font-size="17.7" fill="#222" stroke="#222" textLength="60.1" lengthAdjust="spacingAndGlyphs">UCHL5</text>
<text x="1210.9" y="623.7" font-size="17.7" fill="#222" stroke="#222" textLength="47.5" lengthAdjust="spacingAndGlyphs">TOP1</text>
<text x="1210.9" y="648.7" font-size="17.7" fill="#222" stroke="#222" textLength="48.9" lengthAdjust="spacingAndGlyphs">CDK1</text>
<text x="1210.9" y="673.6" font-size="17.7" fill="#222" stroke="#222" textLength="48.5" lengthAdjust="spacingAndGlyphs">CRY1</text>
<text x="1210.9" y="698.6" font-size="17.7" fill="#222" stroke="#222" textLength="60.1" lengthAdjust="spacingAndGlyphs">CLDN1</text>
<text x="1210.9" y="723.5" font-size="17.7" fill="#222" stroke="#222" textLength="72.0" lengthAdjust="spacingAndGlyphs">TOPBP1</text>
<text x="1032.8" y="800.8" font-size="21.2" text-anchor="middle" fill="#0a0a0a" stroke="#0a0a0a" transform="rotate(90 1032.8 800.8)" textLength="91.8" lengthAdjust="spacingAndGlyphs">Control 1</text>
<text x="1062.4" y="800.8" font-size="21.2" text-anchor="middle" fill="#0a0a0a" stroke="#0a0a0a" transform="rotate(90 1062.4 800.8)" textLength="91.8" lengthAdjust="spacingAndGlyphs">Control 2</text>
<text x="1092.1" y="800.8" font-size="21.2" text-anchor="middle" fill="#0a0a0a" stroke="#0a0a0a" transform="rotate(90 1092.1 800.8)" textLength="91.8" lengthAdjust="spacingAndGlyphs">Control 3</text>
<text x="1121.2" y="800.8" font-size="21.2" text-anchor="middle" fill="#0a0a0a" stroke="#0a0a0a" transform="rotate(90 1121.2 800.8)" textLength="110.2" lengthAdjust="spacingAndGlyphs">PCL-AD-4 1</text>
<text x="1150.8" y="800.8" font-size="21.2" text-anchor="middle" fill="#0a0a0a" stroke="#0a0a0a" transform="rotate(90 1150.8 800.8)" textLength="110.2" lengthAdjust="spacingAndGlyphs">PCL-AD-4 2</text>
<text x="1180.5" y="800.8" font-size="21.2" text-anchor="middle" fill="#0a0a0a" stroke="#0a0a0a" transform="rotate(90 1180.5 800.8)" textLength="110.2" lengthAdjust="spacingAndGlyphs">PCL-AD-4 3</text>
<defs><linearGradient id="gE" x1="0" y1="1" x2="0" y2="0"><stop offset="0.000" stop-color="#453170"/><stop offset="0.059" stop-color="#46337e"/><stop offset="0.118" stop-color="#433e85"/><stop offset="0.176" stop-color="#3e4a89"/><stop offset="0.235" stop-color="#38568b"/><stop offset="0.294" stop-color="#32628d"/><stop offset="0.353" stop-color="#2c6e8e"/><stop offset="0.412" stop-color="#27798e"/><stop offset="0.471" stop-color="#22848d"/><stop offset="0.529" stop-color="#1f908b"/><stop offset="0.588" stop-color="#23a084"/><stop offset="0.647" stop-color="#2fb07b"/><stop offset="0.706" stop-color="#47bd6e"/><stop offset="0.765" stop-color="#69c85d"/><stop offset="0.824" stop-color="#8fd14a"/><stop offset="0.882" stop-color="#b3d938"/><stop offset="0.941" stop-color="#d4df2e"/><stop offset="1.000" stop-color="#ecdf30"/></linearGradient></defs>
<rect x="1354" y="449.7" width="12.7" height="184" fill="url(#gE)"/>
<text x="1372" y="458.9" font-size="15.3" fill="#222" stroke="#222">1.5</text>
<text x="1372" y="488.0" font-size="15.3" fill="#222" stroke="#222">1</text>
<text x="1372" y="517.0" font-size="15.3" fill="#222" stroke="#222">0.5</text>
<text x="1372" y="546.1" font-size="15.3" fill="#222" stroke="#222">0</text>
<text x="1372" y="575.1" font-size="15.3" fill="#222" stroke="#222">−0.5</text>
<text x="1372" y="604.2" font-size="15.3" fill="#222" stroke="#222">−1</text>
<text x="1372" y="633.2" font-size="15.3" fill="#222" stroke="#222">−1.5</text>
<text x="1330.6" y="450.3" font-size="18" fill="#111" stroke="#111" transform="rotate(90 1330.6 450.3)" textLength="159.5" lengthAdjust="spacingAndGlyphs">Relative expression</text>
</g>
</svg></body></html>
